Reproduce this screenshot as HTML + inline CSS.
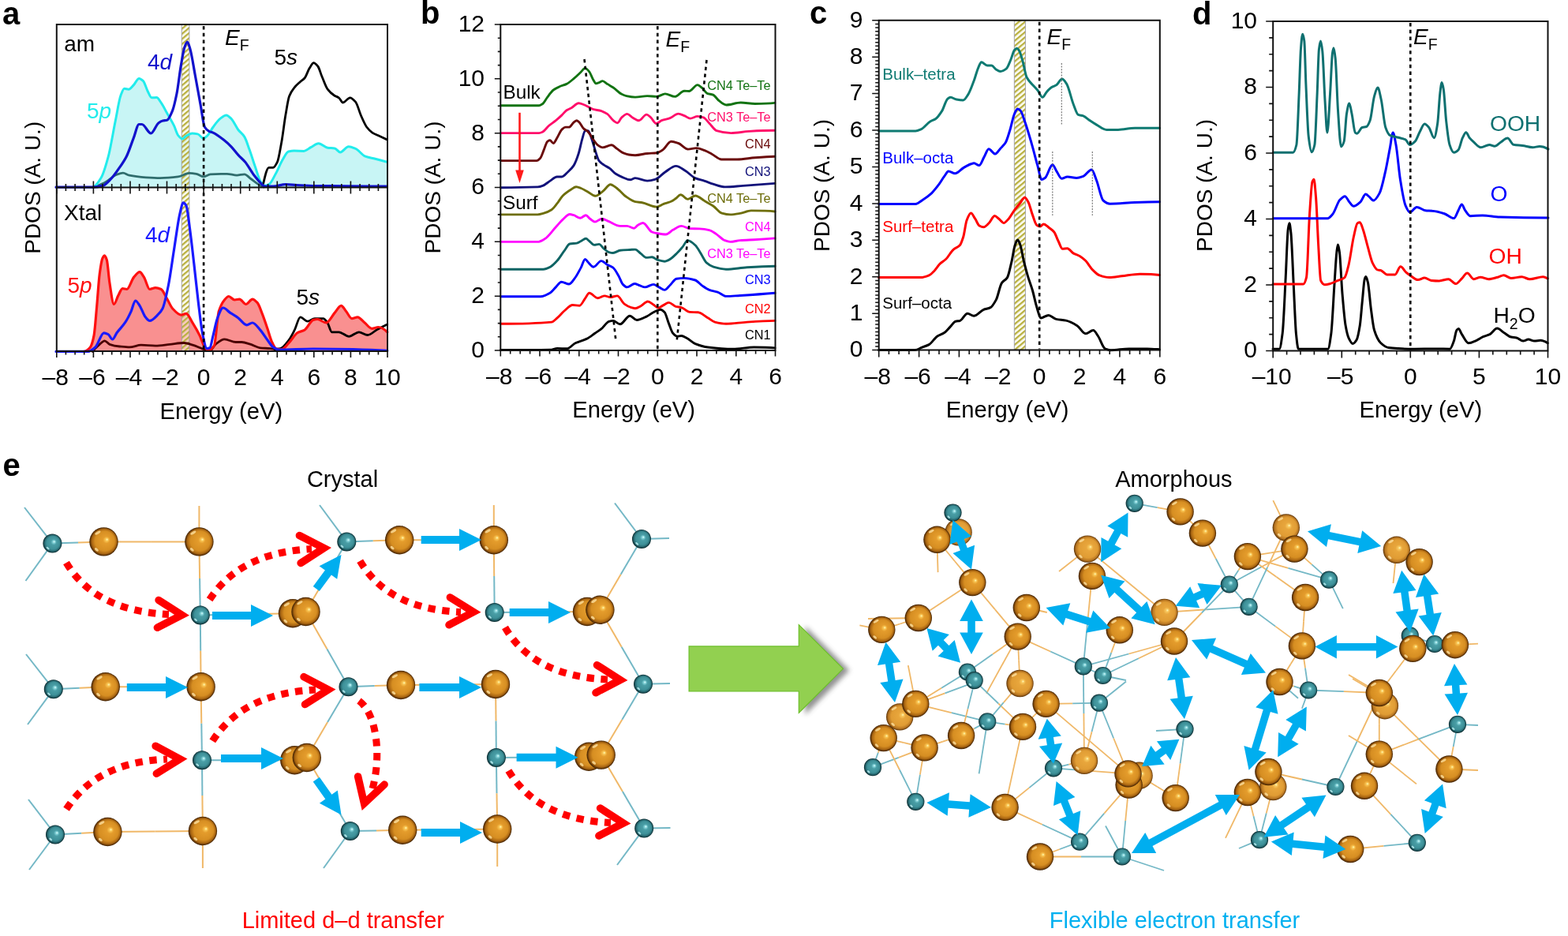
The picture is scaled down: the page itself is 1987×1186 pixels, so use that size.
<!DOCTYPE html>
<html><head><meta charset="utf-8"><title>PDOS figure</title>
<style>html,body{margin:0;padding:0;background:#fff;overflow:hidden}svg{display:block}</style>
</head><body>
<svg width="1987" height="1186" viewBox="0 0 1987 1186" font-family="'Liberation Sans', sans-serif">
<defs>
<pattern id="hatch" patternUnits="userSpaceOnUse" width="5" height="5" patternTransform="rotate(-40)">
<rect width="5" height="5" fill="#fbfbe8" fill-opacity="0.55"/><rect width="5" height="2.3" fill="#b9b040"/></pattern>
<radialGradient id="gO" cx="0.5" cy="0.5" r="0.5" fx="0.62" fy="0.42">
<stop offset="0" stop-color="#fffcb8"/><stop offset="0.1" stop-color="#f8c452"/><stop offset="0.24" stop-color="#e49c2c"/>
<stop offset="0.68" stop-color="#d68e22"/><stop offset="0.86" stop-color="#aa6612"/><stop offset="1" stop-color="#3a1c00"/></radialGradient>
<radialGradient id="gOl" cx="0.5" cy="0.5" r="0.5" fx="0.62" fy="0.42">
<stop offset="0" stop-color="#fffcc0"/><stop offset="0.1" stop-color="#f8c85e"/><stop offset="0.26" stop-color="#e8a63c"/>
<stop offset="0.7" stop-color="#e09c34"/><stop offset="0.88" stop-color="#b87622"/><stop offset="1" stop-color="#5a3208"/></radialGradient>
<radialGradient id="gT" cx="0.5" cy="0.5" r="0.5" fx="0.6" fy="0.4">
<stop offset="0" stop-color="#e0ffff"/><stop offset="0.13" stop-color="#82d2d8"/><stop offset="0.3" stop-color="#4a9ea6"/>
<stop offset="0.68" stop-color="#3d9098"/><stop offset="0.86" stop-color="#26666e"/><stop offset="1" stop-color="#062428"/></radialGradient>
<filter id="sh" x="-20%" y="-20%" width="150%" height="150%"><feGaussianBlur stdDeviation="3"/></filter>
</defs>
<rect width="1987" height="1186" fill="#fff"/>
<path d="M117.8,237.2C121.3,236.6 124.9,230.8 128.4,224.8C131.4,219.7 134.3,209.3 137.3,198.2C140.2,187.2 143.2,168.2 146.1,153.9C148.5,142.4 150.8,126.3 153.2,120.3C154.7,116.6 156.1,112.3 157.6,112.3C159.4,112.3 161.2,113.2 163,113.2C165.1,113.2 167.1,110 169.2,107.9C171.5,105.6 173.9,99.4 176.2,99.4C178,99.4 179.7,100.9 181.5,102.6C183.3,104.3 185.1,111.5 186.9,115C188.7,118.4 190.4,123.8 192.2,123.8C194.3,123.8 196.3,123.5 198.4,123.5C200.5,123.5 202.5,128 204.6,130.9C206.9,134.2 209.3,139.1 211.6,143.3C214.6,148.6 217.5,153.1 220.5,159.2C222.3,162.8 224,169.4 225.8,171.6C227.6,173.8 229.3,176.1 231.1,176.1C232.6,176.1 234,173.4 235.5,172.5C238.2,170.9 240.8,169 243.5,169C245.9,169 248.2,169.4 250.6,169.9C253,170.4 255.3,175.2 257.7,175.2C259.5,175.2 261.2,173.2 263,171.6C265.4,169.4 267.7,164.2 270.1,161C273,157.1 276,152.6 278.9,150.4C281.5,148.4 284.2,146 286.8,146C288.9,146 290.9,148.4 293,150.4C296,153.2 298.9,160.6 301.9,164.5C304.5,168 307.2,169.2 309.8,173.4C311.9,176.7 313.9,183.6 316,189.3C318.4,195.8 320.7,203.8 323.1,210.6C325.5,217.4 327.8,226.6 330.2,230C332,232.5 333.7,235.3 335.5,235.3C337.3,235.3 339,234.5 340.8,233.6C343.8,232.1 346.7,224.7 349.7,219.4C352.6,214.2 355.6,206.4 358.5,201.7C360.9,197.9 363.2,192.5 365.6,192C368,191.5 370.3,191.1 372.7,191.1C376.8,191.1 381,191.4 385.1,191.4C388,191.4 391,188.2 393.9,186.7C397.2,185 400.4,181.7 403.7,181.7C407.5,181.7 411.4,186.7 415.2,187.2C418.1,187.6 421.1,187.5 424,187.9C426.4,188.2 428.7,192.9 431.1,192.9C434.6,192.9 438.2,185.8 441.7,185.8C444.7,185.8 447.6,187.2 450.6,188.4C454.7,190.1 458.9,196.7 463,198.2C466.5,199.5 470.1,199.9 473.6,200.8C479.2,202.2 484.8,203.7 490.4,205.3L490.4,237.6 L117.8,237.6 Z" fill="#c8f5f5" stroke="none"/>
<path d="M106.3,445.4C109,445.4 111.7,443.2 114.4,440C115.9,438.2 117.5,433 119,425.4C120.2,419.5 121.4,402 122.6,389.1C123.8,376.2 125,356.4 126.2,347.4C127.4,338.4 128.6,329.9 129.8,327.5C130.7,325.6 131.7,323.9 132.6,323.9C133.5,323.9 134.4,326.5 135.3,329.3C136.5,333 137.7,350.8 138.9,358.3C140.7,369.7 142.6,385.5 144.4,385.5C146.2,385.5 148,377.9 149.8,374.6C151.6,371.3 153.4,365.6 155.2,365.6C157,365.6 158.9,366.5 160.7,366.5C163.7,366.5 166.7,354.5 169.7,351.1C172.1,348.3 174.6,344.7 177,344.7C178.8,344.7 180.6,348.4 182.4,351.1C184.8,354.7 187.3,366.5 189.7,366.5C192.1,366.5 194.6,364.7 197,364.7C199.4,364.7 201.8,365.5 204.2,366.5C206.6,367.6 209.1,374.2 211.5,378.3C213.9,382.3 216.3,388.4 218.7,391C222.3,394.9 226,399.1 229.6,399.1C231.7,399.1 233.8,397.3 235.9,397.3C238.6,397.3 241.4,404.7 244.1,409.1C247.1,413.9 250.2,419.2 253.2,425.4C255,429.1 256.8,435.5 258.6,438.1C260.4,440.7 262.2,443.6 264,443.6C266.4,443.6 268.9,441.5 271.3,438.1C273.3,435.3 275.3,400.9 277.3,394.5C279.7,386.8 282.1,382.8 284.5,380C286.3,377.9 288.1,375.5 289.9,375.5C292.3,375.5 294.8,380 297.2,380C299.3,380 301.4,379.1 303.5,379.1C306.2,379.1 309,385.5 311.7,385.5C314.4,385.5 317.2,379.1 319.9,379.1C322,379.1 324.1,381.4 326.2,383.7C328.3,386 330.4,392.9 332.5,398.2C334.6,403.6 336.8,410.1 338.9,416.3C340.7,421.6 342.5,428.7 344.3,432.6C346.1,436.5 348,441.3 349.8,441.7C352.2,442.3 354.6,442.6 357,442.6C360,442.6 363.1,437.5 366.1,434.4C369.7,430.7 373.4,423.8 377,421.7C380,419.9 383,419.9 386,418.1C389.6,416 393.3,406.4 396.9,405.4C398.7,404.9 400.5,404.5 402.3,404.5C405.9,404.5 409.6,409 413.2,409C416.8,409 420.5,400.5 424.1,396.4C426.8,393.3 429.6,387.3 432.3,387.3C434.4,387.3 436.5,392 438.6,394.5C441,397.4 443.5,403.6 445.9,403.6C448.3,403.6 450.7,401.8 453.1,401.8C456.1,401.8 459.2,406.6 462.2,409C465.2,411.4 468.2,416.3 471.2,416.3C473.9,416.3 476.7,414.5 479.4,414.5C483.2,414.5 487,417 490.8,420.8L490.8,445 L106.3,445 Z" fill="#f99090" stroke="none"/>
<rect x="230.2" y="31" width="9.7" height="414" fill="url(#hatch)" stroke="#9a9aa8" stroke-width="0.9"/>
<path d="M117.8,237.2C122.5,236 127.3,234.1 132,231.8C137.3,229.2 142.6,223.1 147.9,221.2C150.6,220.2 153.2,219.1 155.9,219.1C158.5,219.1 161.2,221.6 163.8,222.1C170.9,223.6 178,224.3 185.1,224.8C191,225.2 196.9,225.6 202.8,225.6C210.5,225.6 218.1,224.9 225.8,223.9C230.5,223.3 235.3,219.4 240,219.4C242.9,219.4 245.9,219.8 248.8,220.3C251.8,220.8 254.7,223.9 257.7,223.9C260.6,223.9 263.6,221.1 266.5,220.9C271,220.5 275.5,220.3 280,220.3C282.6,220.3 285.1,220.3 287.7,220.3C291.8,220.3 296,222.1 300.1,222.1C303.3,222.1 306.6,220.8 309.8,220.8C312.5,220.8 315.1,224.6 317.8,226.5C321.9,229.4 326.1,233.1 330.2,235.3C331.5,236 332.7,236.5 334,237" fill="none" stroke="#2f6d6d" stroke-width="2.8" stroke-linejoin="round" stroke-linecap="round"/>
<path d="M117.8,237.2C121.3,236.6 124.9,230.8 128.4,224.8C131.4,219.7 134.3,209.3 137.3,198.2C140.2,187.2 143.2,168.2 146.1,153.9C148.5,142.4 150.8,126.3 153.2,120.3C154.7,116.6 156.1,112.3 157.6,112.3C159.4,112.3 161.2,113.2 163,113.2C165.1,113.2 167.1,110 169.2,107.9C171.5,105.6 173.9,99.4 176.2,99.4C178,99.4 179.7,100.9 181.5,102.6C183.3,104.3 185.1,111.5 186.9,115C188.7,118.4 190.4,123.8 192.2,123.8C194.3,123.8 196.3,123.5 198.4,123.5C200.5,123.5 202.5,128 204.6,130.9C206.9,134.2 209.3,139.1 211.6,143.3C214.6,148.6 217.5,153.1 220.5,159.2C222.3,162.8 224,169.4 225.8,171.6C227.6,173.8 229.3,176.1 231.1,176.1C232.6,176.1 234,173.4 235.5,172.5C238.2,170.9 240.8,169 243.5,169C245.9,169 248.2,169.4 250.6,169.9C253,170.4 255.3,175.2 257.7,175.2C259.5,175.2 261.2,173.2 263,171.6C265.4,169.4 267.7,164.2 270.1,161C273,157.1 276,152.6 278.9,150.4C281.5,148.4 284.2,146 286.8,146C288.9,146 290.9,148.4 293,150.4C296,153.2 298.9,160.6 301.9,164.5C304.5,168 307.2,169.2 309.8,173.4C311.9,176.7 313.9,183.6 316,189.3C318.4,195.8 320.7,203.8 323.1,210.6C325.5,217.4 327.8,226.6 330.2,230C332,232.5 333.7,235.3 335.5,235.3C337.3,235.3 339,234.5 340.8,233.6C343.8,232.1 346.7,224.7 349.7,219.4C352.6,214.2 355.6,206.4 358.5,201.7C360.9,197.9 363.2,192.5 365.6,192C368,191.5 370.3,191.1 372.7,191.1C376.8,191.1 381,191.4 385.1,191.4C388,191.4 391,188.2 393.9,186.7C397.2,185 400.4,181.7 403.7,181.7C407.5,181.7 411.4,186.7 415.2,187.2C418.1,187.6 421.1,187.5 424,187.9C426.4,188.2 428.7,192.9 431.1,192.9C434.6,192.9 438.2,185.8 441.7,185.8C444.7,185.8 447.6,187.2 450.6,188.4C454.7,190.1 458.9,196.7 463,198.2C466.5,199.5 470.1,199.9 473.6,200.8C479.2,202.2 484.8,203.7 490.4,205.3" fill="none" stroke="#22ecec" stroke-width="3.0" stroke-linejoin="round" stroke-linecap="round"/>
<path d="M333.7,232.5C336.1,221.9 338.4,212.3 340.8,212.3C342.6,212.3 344.3,212.3 346.1,212.3C347.9,212.3 349.6,208.9 351.4,205.3C353.2,201.7 354.9,190.2 356.7,180.5C358.5,170.8 360.2,155.3 362,145.1C363.5,136.4 365,126.1 366.5,122.1C368.6,116.6 370.6,114 372.7,111.4C375.3,108 378,105.9 380.6,103.5C382.4,101.9 384.2,101.1 386,99C388,96.6 390.1,89.8 392.1,86.6C393.9,83.8 395.7,79.6 397.5,79.6C399.3,79.6 401,81.8 402.8,84C404.6,86.2 406.3,93.1 408.1,97.3C410.5,102.9 412.8,110.1 415.2,113.2C418.1,117.1 421.1,119.4 424,121.2C425.8,122.3 427.5,122.6 429.3,123.8C431.1,125 432.8,130 434.6,130C437.6,130 440.5,123.8 443.5,123.8C445.9,123.8 448.2,126.4 450.6,129.1C452.9,131.8 455.3,141.6 457.6,146.8C460,152.1 462.3,157.8 464.7,161C467.1,164.2 469.4,166.5 471.8,168.1C474.2,169.7 476.5,170.5 478.9,171.6C482.7,173.4 486.6,175.2 490.4,176.9" fill="none" stroke="#000" stroke-width="2.8" stroke-linejoin="round" stroke-linecap="round"/>
<path d="M71,237.2C86.6,237.2 102.2,237.2 117.8,237.2C121.9,237.2 126.1,236.4 130.2,235.4C133.7,234.5 137.3,230.1 140.8,226.5C144.3,222.9 147.9,217.5 151.4,212.4C154.4,208.1 157.3,204.1 160.3,198.2C163.3,192.3 166.2,182.8 169.2,175.2C171.5,169.2 173.9,157.5 176.2,157.5C177.4,157.5 178.6,157.5 179.8,157.5C183.6,157.5 187.5,169 191.3,169C194.5,169 197.8,158 201,155.7C202.8,154.4 204.5,153.4 206.3,153C208.1,152.6 209.8,152.7 211.6,152.2C214,151.6 216.3,145.7 218.7,139.8C220.5,135.4 222.2,127.4 224,118.5C225.8,109.6 227.5,93.3 229.3,83.1C230.8,74.4 232.3,64.4 233.8,60.1C235,56.8 236.1,53 237.3,53C238.5,53 239.7,58 240.9,61.9C242.9,68.5 245,82.8 247,93.7C249.4,106.4 251.7,119.9 254.1,132.7C255.9,142.3 257.6,158.1 259.4,161C261.2,164 263,165.4 264.8,166.3C266.5,167.2 268.3,167.3 270,168.1C274.7,170.2 279.5,174.1 284.2,177.8C287.1,180.1 290.1,182.8 293,185.8C296,188.9 298.9,193.2 301.9,196.4C304.8,199.6 307.8,201.8 310.7,205.3C314.2,209.5 317.8,216.5 321.3,221.2C324.3,225.1 327.2,228.9 330.2,231.8C332,233.5 333.7,236.2 335.5,236.2C339,236.2 342.6,236.2 346.1,236.2C351.4,236.2 356.7,233.6 362,233.6C366.7,233.6 371.5,234.3 376.2,234.5C384.1,234.9 392.1,235.4 400,235.5C413.3,235.7 426.7,235.7 440,235.8C456.8,235.9 473.6,236.1 490.4,236.2" fill="none" stroke="#1212cc" stroke-width="3.2" stroke-linejoin="round" stroke-linecap="round"/>
<path d="M117.2,445.4C120.2,441.8 123.2,438.8 126.2,436.3C128.3,434.5 130.5,431.8 132.6,431.8C134.7,431.8 136.8,435.6 138.9,436.3C143.1,437.8 147.4,438.6 151.6,439C155.8,439.4 160.1,439.9 164.3,439.9C169.1,439.9 174,437.2 178.8,437.2C184.9,437.2 190.9,438.1 197,438.1C203,438.1 209.1,436.9 215.1,436.3C221.1,435.7 227.2,434.5 233.2,434.5C236.8,434.5 240.5,436.1 244.1,437.2C248.9,438.6 253.8,441.1 258.6,442.6C261,443.3 263.5,444.5 265.9,444.5C268.3,444.5 270.7,438.2 273.1,436.3C276.9,433.4 280.7,429.9 284.5,429.9C289.3,429.9 294.2,433.5 299,433.5C301.4,433.5 303.9,433.5 306.3,433.5C309.9,433.5 313.5,435.1 317.1,436.2C321.3,437.4 325.6,440.3 329.8,440.8C334,441.3 338.3,441.2 342.5,441.7C345.5,442 348.6,442.7 351.6,443.5" fill="none" stroke="#4a0000" stroke-width="2.8" stroke-linejoin="round" stroke-linecap="round"/>
<path d="M348,442.5C350.4,442.5 352.8,442.2 355.2,441.7C358.8,441 362.5,435.5 366.1,430.8C368.5,427.7 370.9,422.8 373.3,418.1C375.7,413.3 378.2,401.8 380.6,401.8C383.6,401.8 386.7,407.2 389.7,407.2C392.7,407.2 395.7,403.6 398.7,403.6C402.3,403.6 406,403.6 409.6,403.6C411.4,403.6 413.2,406.5 415,409C416.8,411.5 418.7,420.8 420.5,420.8C423.5,420.8 426.5,420.8 429.5,420.8C433.7,420.8 438,426.3 442.2,426.3C446.4,426.3 450.7,420.8 454.9,420.8C458.5,420.8 462.2,424.5 465.8,424.5C470,424.5 474.3,419.5 478.5,417.2C482.6,415 486.7,412.9 490.8,410.9" fill="none" stroke="#000" stroke-width="2.8" stroke-linejoin="round" stroke-linecap="round"/>
<path d="M106.3,445.4C109,445.4 111.7,443.2 114.4,440C115.9,438.2 117.5,433 119,425.4C120.2,419.5 121.4,402 122.6,389.1C123.8,376.2 125,356.4 126.2,347.4C127.4,338.4 128.6,329.9 129.8,327.5C130.7,325.6 131.7,323.9 132.6,323.9C133.5,323.9 134.4,326.5 135.3,329.3C136.5,333 137.7,350.8 138.9,358.3C140.7,369.7 142.6,385.5 144.4,385.5C146.2,385.5 148,377.9 149.8,374.6C151.6,371.3 153.4,365.6 155.2,365.6C157,365.6 158.9,366.5 160.7,366.5C163.7,366.5 166.7,354.5 169.7,351.1C172.1,348.3 174.6,344.7 177,344.7C178.8,344.7 180.6,348.4 182.4,351.1C184.8,354.7 187.3,366.5 189.7,366.5C192.1,366.5 194.6,364.7 197,364.7C199.4,364.7 201.8,365.5 204.2,366.5C206.6,367.6 209.1,374.2 211.5,378.3C213.9,382.3 216.3,388.4 218.7,391C222.3,394.9 226,399.1 229.6,399.1C231.7,399.1 233.8,397.3 235.9,397.3C238.6,397.3 241.4,404.7 244.1,409.1C247.1,413.9 250.2,419.2 253.2,425.4C255,429.1 256.8,435.5 258.6,438.1C260.4,440.7 262.2,443.6 264,443.6C266.4,443.6 268.9,441.5 271.3,438.1C273.3,435.3 275.3,400.9 277.3,394.5C279.7,386.8 282.1,382.8 284.5,380C286.3,377.9 288.1,375.5 289.9,375.5C292.3,375.5 294.8,380 297.2,380C299.3,380 301.4,379.1 303.5,379.1C306.2,379.1 309,385.5 311.7,385.5C314.4,385.5 317.2,379.1 319.9,379.1C322,379.1 324.1,381.4 326.2,383.7C328.3,386 330.4,392.9 332.5,398.2C334.6,403.6 336.8,410.1 338.9,416.3C340.7,421.6 342.5,428.7 344.3,432.6C346.1,436.5 348,441.3 349.8,441.7C352.2,442.3 354.6,442.6 357,442.6C360,442.6 363.1,437.5 366.1,434.4C369.7,430.7 373.4,423.8 377,421.7C380,419.9 383,419.9 386,418.1C389.6,416 393.3,406.4 396.9,405.4C398.7,404.9 400.5,404.5 402.3,404.5C405.9,404.5 409.6,409 413.2,409C416.8,409 420.5,400.5 424.1,396.4C426.8,393.3 429.6,387.3 432.3,387.3C434.4,387.3 436.5,392 438.6,394.5C441,397.4 443.5,403.6 445.9,403.6C448.3,403.6 450.7,401.8 453.1,401.8C456.1,401.8 459.2,406.6 462.2,409C465.2,411.4 468.2,416.3 471.2,416.3C473.9,416.3 476.7,414.5 479.4,414.5C483.2,414.5 487,417 490.8,420.8" fill="none" stroke="#ff1010" stroke-width="3.2" stroke-linejoin="round" stroke-linecap="round"/>
<path d="M71,445.4C84.6,445.4 98.1,445.4 111.7,445.4C114.7,445.4 117.8,442.6 120.8,440C124.4,436.9 128.1,421.8 131.7,421.8C133.5,421.8 135.3,422.7 137.1,423.6C138.9,424.5 140.7,430 142.5,430C144.3,430 146.2,424.3 148,421.8C151.6,416.8 155.3,413.7 158.9,408.2C161.3,404.5 163.7,399.8 166.1,394.6C167.9,390.6 169.8,381 171.6,381C173.4,381 175.2,384.7 177,387.3C179.4,390.8 181.9,399 184.3,401.8C186.1,403.9 187.9,406.4 189.7,406.4C193.3,406.4 197,401.8 200.6,398.2C202.4,396.4 204.2,394.5 206,391C208.4,386.3 210.9,373.9 213.3,362C215.7,350.3 218.1,331.6 220.5,316.6C222.9,301.4 225.4,281.4 227.8,271.3C229.3,265.1 230.8,256.8 232.3,256.8C233.5,256.8 234.7,258.4 235.9,260.4C237.4,263 239,278.4 240.5,289.4C242.3,302.3 244.1,319.1 245.9,334.7C247.7,350.5 249.6,368.9 251.4,383.7C253.2,398.2 255,415.3 256.8,423.6C258.6,431.9 260.4,441.7 262.2,441.7C263.4,441.7 264.7,441.4 265.9,440.8C267.3,440.2 268.6,430.7 270,425.4C271.8,418.4 273.6,408.3 275.4,403.6C277.8,397.3 280.3,390 282.7,390C285.7,390 288.8,394.4 291.8,396.4C295.1,398.6 298.4,400.3 301.7,402.7C305.3,405.3 309,411.8 312.6,411.8C315,411.8 317.5,409 319.9,409C323.2,409 326.5,414.4 329.8,418.1C332.8,421.5 335.9,426.8 338.9,430.8C341.3,434 343.7,438.3 346.1,439.9C348.5,441.5 351,443.1 353.4,443.1C367.9,443.1 382.4,442 396.9,442C428.2,442 459.5,442.5 490.8,444.4" fill="none" stroke="#1a1aff" stroke-width="3.2" stroke-linejoin="round" stroke-linecap="round"/>
<path d="M258.1,33V444" stroke="#000" stroke-width="2.6" stroke-dasharray="4.4 4.4"/>
<path d="M71.8,31H491V445H71.8Z" fill="none" stroke="#111" stroke-width="2"/>
<path d="M71.8,237.6H491" stroke="#111" stroke-width="2"/>
<path d="M71.8,229.6V245.6M83.4,233.1V242.1M95.1,233.1V242.1M106.7,233.1V242.1M118.4,229.6V245.6M130,233.1V242.1M141.7,233.1V242.1M153.3,233.1V242.1M165,229.6V245.6M176.6,233.1V242.1M188.2,233.1V242.1M199.9,233.1V242.1M211.5,229.6V245.6M223.2,233.1V242.1M234.8,233.1V242.1M246.5,233.1V242.1M258.1,229.6V245.6M269.8,233.1V242.1M281.4,233.1V242.1M293,233.1V242.1M304.7,229.6V245.6M316.3,233.1V242.1M328,233.1V242.1M339.6,233.1V242.1M351.3,229.6V245.6M362.9,233.1V242.1M374.6,233.1V242.1M386.2,233.1V242.1M397.8,229.6V245.6M409.5,233.1V242.1M421.1,233.1V242.1M432.8,233.1V242.1M444.4,229.6V245.6M456.1,233.1V242.1M467.7,233.1V242.1M479.4,233.1V242.1M491,229.6V245.6" stroke="#111" stroke-width="1.6"/>
<path d="M71.8,445V453M83.4,445V449.5M95.1,445V449.5M106.7,445V449.5M118.4,445V453M130,445V449.5M141.7,445V449.5M153.3,445V449.5M165,445V453M176.6,445V449.5M188.2,445V449.5M199.9,445V449.5M211.5,445V453M223.2,445V449.5M234.8,445V449.5M246.5,445V449.5M258.1,445V453M269.8,445V449.5M281.4,445V449.5M293,445V449.5M304.7,445V453M316.3,445V449.5M328,445V449.5M339.6,445V449.5M351.3,445V453M362.9,445V449.5M374.6,445V449.5M386.2,445V449.5M397.8,445V453M409.5,445V449.5M421.1,445V449.5M432.8,445V449.5M444.4,445V453M456.1,445V449.5M467.7,445V449.5M479.4,445V449.5M491,445V453" stroke="#111" stroke-width="1.6"/>
<text x="70.3" y="488.3" font-size="30" fill="#000" text-anchor="middle">–8</text>
<text x="116.9" y="488.3" font-size="30" fill="#000" text-anchor="middle">–6</text>
<text x="163.5" y="488.3" font-size="30" fill="#000" text-anchor="middle">–4</text>
<text x="210" y="488.3" font-size="30" fill="#000" text-anchor="middle">–2</text>
<text x="258.1" y="488.3" font-size="30" fill="#000" text-anchor="middle">0</text>
<text x="304.7" y="488.3" font-size="30" fill="#000" text-anchor="middle">2</text>
<text x="351.3" y="488.3" font-size="30" fill="#000" text-anchor="middle">4</text>
<text x="397.8" y="488.3" font-size="30" fill="#000" text-anchor="middle">6</text>
<text x="444.4" y="488.3" font-size="30" fill="#000" text-anchor="middle">8</text>
<text x="491" y="488.3" font-size="30" fill="#000" text-anchor="middle">10</text>
<text x="280.4" y="530.5" font-size="29.2" fill="#000" text-anchor="middle">Energy (eV)</text>
<text x="51" y="237.8" font-size="28" fill="#000" text-anchor="middle" transform="rotate(-90 51 237.8)">PDOS (A. U.)</text>
<text x="81.3" y="64.5" font-size="28" fill="#000" text-anchor="start">am</text>
<text x="81" y="279.4" font-size="28" fill="#000" text-anchor="start">Xtal</text>
<text x="187" y="88.4" font-size="28" fill="#1212cc" text-anchor="start">4<tspan font-style="italic">d</tspan></text>
<text x="184" y="306.6" font-size="28" fill="#1a1aff" text-anchor="start">4<tspan font-style="italic">d</tspan></text>
<text x="110" y="150.4" font-size="28" fill="#22ecec" text-anchor="start">5<tspan font-style="italic">p</tspan></text>
<text x="85.5" y="371" font-size="28" fill="#ff1010" text-anchor="start">5<tspan font-style="italic">p</tspan></text>
<text x="347.5" y="82.2" font-size="28" fill="#000" text-anchor="start">5<tspan font-style="italic">s</tspan></text>
<text x="375.5" y="385.5" font-size="28" fill="#000" text-anchor="start">5<tspan font-style="italic">s</tspan></text>
<text x="285" y="57.4" font-size="28" fill="#000" text-anchor="start"><tspan font-style="italic">E</tspan><tspan font-size="19.5" dy="7">F</tspan></text>
<text x="3" y="30.8" font-size="40" fill="#000" text-anchor="start" font-weight="bold">a</text>
<path d="M634.4,443.5C655.4,443.5 676.3,443.5 697.3,443.2C700.2,443.2 703.2,441.4 706.1,441.4C710.2,441.4 714.4,441.8 718.5,441.8C722,441.8 725.6,436.4 729.1,434.7C733.8,432.4 738.6,431.7 743.3,429.4C746.8,427.7 750.4,424.7 753.9,422.3C756.8,420.3 759.8,418.5 762.7,416.1C765.7,413.7 768.6,408.1 771.6,407.3C773.4,406.8 775.1,406.4 776.9,406.4C779.9,406.4 782.8,410.8 785.8,410.8C789.9,410.8 794,400.2 798.1,400.2C801.1,400.2 804,405.5 807,405.5C811.1,405.5 815.1,403 819.2,401.1C822.1,399.8 825.1,397.2 828,395.8C831,394.4 833.9,392.2 836.9,392.2C838.7,392.2 840.4,393.9 842.2,395.8C844,397.7 845.7,405.5 847.5,409.9C849.3,414.3 851,420.3 852.8,422.3C854.6,424.3 856.3,426.2 858.1,426.2C859.9,426.2 861.6,425.5 863.4,425.5C865.8,425.5 868.1,427.3 870.5,428.5C874,430.3 877.6,434.2 881.1,435.6C886.4,437.7 891.7,439.4 897,440C907.6,441.3 918.3,442.3 928.9,442.3C937.7,442.3 946.6,440 955.4,440C964.3,440 973.1,440.1 982,440.9" fill="none" stroke="#000" stroke-width="2.9" stroke-linejoin="round" stroke-linecap="round"/>
<path d="M634.4,410.3C655.9,410.3 677.5,410 699,408.1C701.4,407.9 703.7,404.8 706.1,402.8C709.1,400.3 712,396.5 715,394C718.5,391.1 722.1,386.5 725.6,386.5C728.5,386.5 731.5,387.3 734.4,387.3C736.8,387.3 739.1,381.2 741.5,378.1C743.3,375.8 745,371.3 746.8,371.3C750.3,371.3 753.9,377.7 757.4,377.7C760.4,377.7 763.3,374.9 766.3,374.9C768.7,374.9 771,376.6 773.4,376.6C776.3,376.6 779.3,374.9 782.2,374.9C785.2,374.9 788.1,383 791.1,385.1C794,387.2 797,388.7 799.9,389.6C801.6,390.1 803.3,390.8 805,390.8C807.4,390.8 809.7,389 812.1,387.8C815,386.3 818,382 820.9,382C823.3,382 825.6,384.6 828,386C830.1,387.3 832.1,390.1 834.2,390.1C836.3,390.1 838.3,387.9 840.4,386.9C842.8,385.7 845.1,383.4 847.5,383.4C850.4,383.4 853.4,387.5 856.3,388.3C858.7,388.9 861,389 863.4,389.6C866.9,390.5 870.5,395.2 874,395.4C877.5,395.6 881.1,395.6 884.6,395.8C888.7,396.1 892.9,400.4 897,402.8C900,404.5 902.9,407.3 905.9,408.1C910.6,409.3 915.3,410.3 920,410.3C928.9,410.3 937.7,408.6 946.6,408.1C958.4,407.4 970.2,406.7 982,406.4" fill="none" stroke="#ff0000" stroke-width="2.9" stroke-linejoin="round" stroke-linecap="round"/>
<path d="M634.4,375.8C651.2,375.8 668.1,375.8 684.9,375.8C689,375.8 693.2,373.4 697.3,371C699.6,369.6 702,366.2 704.3,363.9C706.7,361.6 709,357.2 711.4,357.2C714.7,357.2 717.9,360 721.2,360C723.8,360 726.5,355 729.1,351.5C731.5,348.3 733.8,343.5 736.2,339.1C738,335.8 739.7,328.5 741.5,328.5C742.7,328.5 743.8,330.9 745,332C747.4,334.2 749.7,338.2 752.1,338.2C755.4,338.2 758.6,330.6 761.9,330.6C764.5,330.6 767.2,334.1 769.8,335.6C772.2,336.9 774.5,337.3 776.9,339.1C779.3,340.9 781.6,345.6 784,349.7C785.8,352.8 787.5,358.6 789.3,360.4C791.1,362.2 792.8,363.9 794.6,363.9C797.8,363.9 801.1,359.5 804.3,359.5C806.2,359.5 808.1,360.9 810,361.5C812.5,362.3 814.9,363.9 817.4,363.9C820.9,363.9 824.5,360.4 828,360.4C830.4,360.4 832.7,362.7 835.1,363.9C837.5,365.1 839.8,367.4 842.2,367.4C844.5,367.4 846.9,363.4 849.2,361.2C851.9,358.7 854.5,353.8 857.2,353.3C860.5,352.7 863.7,352.4 867,352.4C871.7,352.4 876.4,353.5 881.1,355C884.1,355.9 887,360.1 890,362.1C892.9,364.1 895.9,366.3 898.8,367.4C902.3,368.7 905.9,368.9 909.4,370.1C912.9,371.3 916.5,375.4 920,375.4C925.9,375.4 931.8,374.8 937.7,374.5C952.5,373.6 967.2,372.6 982,371.3" fill="none" stroke="#0000ff" stroke-width="2.9" stroke-linejoin="round" stroke-linecap="round"/>
<path d="M634.4,341.2C652.4,341.2 670.4,341.2 688.4,341.2C691.4,341.2 694.3,339.7 697.3,338.2C700.2,336.8 703.2,333.5 706.1,330.3C709.1,327.1 712,321.8 715,317.9C717.3,314.8 719.7,309.5 722,309C725,308.4 727.9,308.6 730.9,308.1C732.7,307.8 734.4,306.4 736.2,305.5C738.3,304.5 740.3,302.3 742.4,302.3C743.9,302.3 745.3,304.4 746.8,305.5C748.9,307.1 750.9,310.4 753,310.4C755.1,310.4 757.1,309.4 759.2,309.4C761,309.4 762.7,312.8 764.5,314.3C766.9,316.3 769.2,319 771.6,319.6C773.4,320.1 775.1,320.5 776.9,320.5C779.9,320.5 782.8,317.6 785.8,317.3C789.9,316.8 794,316.7 798.1,316.5C800.4,316.4 802.7,316.1 805,316.1C807.4,316.1 809.7,319.7 812.1,321.4C814.5,323.1 816.8,326.4 819.2,326.4C821.5,326.4 823.9,325.8 826.2,325.8C828.6,325.8 830.9,328.7 833.3,329.4C836.3,330.3 839.2,331.2 842.2,331.2C844,331.2 845.7,330.2 847.5,329.4C851,327.8 854.6,323.9 858.1,320.5C860.5,318.2 862.8,315.4 865.2,312.6C867.3,310.1 869.3,304.6 871.4,304.6C874.6,304.6 877.9,307.8 881.1,310.8C883.5,313 885.8,317.7 888.2,321.4C890.6,325.1 892.9,330.8 895.3,332.9C898.2,335.5 901.2,337.3 904.1,338.2C909.4,339.8 914.7,341.2 920,341.2C928.9,341.2 937.7,339.3 946.6,338.8C958.4,338.1 970.2,337.5 982,337.3" fill="none" stroke="#0e6464" stroke-width="2.9" stroke-linejoin="round" stroke-linecap="round"/>
<path d="M634.4,306.4C650,306.4 665.7,306.4 681.3,306.4C684.3,306.4 687.2,304.5 690.2,302.8C694.9,300.1 699.6,292.9 704.3,287.8C707.3,284.6 710.2,280.7 713.2,278.1C716.1,275.5 719.1,271.5 722,271.5C723.8,271.5 725.5,272.2 727.3,272.7C730,273.5 732.6,276.3 735.3,276.3C737.7,276.3 740,272.7 742.4,272.7C744.2,272.7 745.9,275.9 747.7,277.2C749.8,278.7 751.8,281.1 753.9,281.1C756.8,281.1 759.8,277.2 762.7,277.2C765.7,277.2 768.6,279.5 771.6,280.7C776.3,282.6 781.1,286.4 785.8,286.4C788.7,286.4 791.7,286.4 794.6,286.4C797.6,286.4 800.5,289.2 803.5,289.2C805,289.2 806.5,286.4 808,285.5C810.2,284.2 812.5,282.5 814.7,282.5C818.5,282.5 822.4,292.5 826.2,294C828.6,294.9 830.9,295.4 833.3,295.8C836.8,296.4 840.4,297 843.9,297C846.9,297 849.8,292.9 852.8,291.3C856.3,289.4 859.9,286.4 863.4,286.4C866.9,286.4 870.5,289.4 874,289.6C878.1,289.8 882.3,289.7 886.4,289.9C890.5,290.1 894.7,290.7 898.8,291.7C901.8,292.4 904.7,294.7 907.7,296.6C911.2,298.8 914.8,303.3 918.3,304.6C920.7,305.5 923,306.4 925.4,306.4C929.5,306.4 933.6,304.9 937.7,304.6C943.6,304.1 949.5,304 955.4,303.7C964.3,303.2 973.1,302.6 982,301.9" fill="none" stroke="#ff00ff" stroke-width="2.9" stroke-linejoin="round" stroke-linecap="round"/>
<path d="M634.4,271.9C650,271.9 665.7,271.9 681.3,271.9C683.7,271.9 686,271.1 688.4,270.4C691.9,269.4 695.5,268 699,265.7C701.4,264.1 703.7,260.6 706.1,257.7C708.5,254.8 710.8,250.3 713.2,248C716.7,244.5 720.3,242.2 723.8,240C725.9,238.7 728,236.7 730.1,236.7C732.1,236.7 734.2,237.7 736.2,238.5C738.8,239.5 741.4,241.1 744,242.5C747.4,244.3 750.9,248.3 754.3,248.3C757.7,248.3 761.1,244.3 764.5,241.8C767.5,239.6 770.6,233.8 773.6,233.8C775.4,233.8 777.2,235.4 779,236.5C781.2,237.9 783.5,240 785.7,242C788.1,244.1 790.4,247.1 792.8,248.8C796.9,251.7 800.9,254.7 805,255.6C807.9,256.2 810.9,256.3 813.8,256.8C820,257.9 826.2,262.1 832.4,262.1C835.1,262.1 837.7,259.6 840.4,258.6C843.9,257.2 847.5,256.6 851,255C852.8,254.2 854.5,252.8 856.3,251.5C858.4,250 860.4,246.7 862.5,246.7C865.5,246.7 868.4,252.4 871.4,252.4C874.6,252.4 877.9,248 881.1,248C885.2,248 889.4,252.6 893.5,255C897,257 900.6,258.8 904.1,261.2C907.6,263.6 911.2,269.1 914.7,270.1C918.3,271.1 921.8,271.9 925.4,271.9C929.5,271.9 933.6,271.1 937.7,270.4C942.4,269.6 947.2,266.9 951.9,266.9C961.9,266.9 972,266.9 982,268" fill="none" stroke="#6e6e0a" stroke-width="2.9" stroke-linejoin="round" stroke-linecap="round"/>
<path d="M634.6,237.7C650.3,237.7 665.9,237.5 681.6,236.9C683.6,236.8 685.7,236.1 687.7,235.4C690.7,234.3 693.8,231.3 696.8,229.4C699.8,227.5 702.9,224 705.9,224C707.9,224 710,224 712,224C714.5,224 717,220.3 719.5,218C722,215.6 724.6,213.5 727.1,209.6C729.1,206.4 731.2,200.8 733.2,194.5C734.7,189.8 736.3,181.3 737.8,176.2C739,172.1 740.3,165.6 741.5,165.6C742.8,165.6 744,165.6 745.3,165.6C746.8,165.6 748.4,172 749.9,176.2C751.4,180.4 753,186.8 754.5,191.4C756,195.9 757.5,201.6 759,203.6C761,206.3 763.1,207.5 765.1,208.9C767.6,210.7 770.2,211.6 772.7,213.4C775.2,215.2 777.8,218.7 780.3,220.3C783.3,222.3 786.4,223.6 789.4,224.8C792.4,226 795.5,227.8 798.5,227.8C800.7,227.8 802.8,225.6 805,225.6C810.1,225.6 815.1,229.1 820.2,229.1C823.7,229.1 827.3,228.2 830.8,227.1C834.8,225.9 838.9,220.6 842.9,218C847.5,215.1 852,210.4 856.6,210.4C860.6,210.4 864.7,214.1 868.7,216.5C872.8,218.9 876.8,223.8 880.9,225.6C884.9,227.4 889,228 893,229.4C896.5,230.6 900.1,232.2 903.6,233.2C908.7,234.7 913.7,236.9 918.8,236.9C926.4,236.9 934,235.9 941.6,235.4C955,234.5 968.4,233.5 981.8,232.4" fill="none" stroke="#12127a" stroke-width="2.9" stroke-linejoin="round" stroke-linecap="round"/>
<path d="M634.6,203.6C649.8,203.6 664.9,203.6 680.1,203.6C681.6,203.6 683.1,202.1 684.6,200.5C686.1,198.9 687.7,193.5 689.2,189.9C690.7,186.4 692.2,180.5 693.7,179.3C694.7,178.5 695.8,177.8 696.8,177.8C698.3,177.8 699.8,181.5 701.3,181.5C702.8,181.5 704.4,177.1 705.9,174.7C707.9,171.5 710,166 712,164.1C713.5,162.7 715,161.1 716.5,161.1C718,161.1 719.6,161.1 721.1,161.1C723.1,161.1 725.1,156.5 727.1,155C728.4,154.1 729.6,152.7 730.9,152.7C732.2,152.7 733.4,154.4 734.7,155.7C736.2,157.3 737.8,161 739.3,162.6C741.3,164.6 743.3,165.1 745.3,167.1C747.3,169.1 749.4,173.4 751.4,176.2C753.4,179 755.5,182.3 757.5,183.8C759.5,185.3 761.6,186.9 763.6,186.9C767.4,186.9 771.1,183.8 774.9,183.8C777.2,183.8 779.5,186.8 781.8,188.4C784.3,190.1 786.9,192.6 789.4,193.7C791.9,194.8 794.4,195.7 796.9,196C799.6,196.4 802.3,196.7 805,196.7C810.1,196.7 815.1,195 820.2,194.5C824.2,194.1 828.3,194.2 832.3,193.7C834.8,193.4 837.4,191.6 839.9,189.9C843.4,187.6 847,179.3 850.5,179.3C853.5,179.3 856.6,180.5 859.6,181.5C863.7,182.9 867.7,189.1 871.8,189.1C875.3,189.1 878.9,187.6 882.4,187.6C885.9,187.6 889.5,189.4 893,190.7C896,191.8 899.1,193.6 902.1,195.2C906.2,197.3 910.2,202 914.3,202C920.9,202 927.4,202 934,202C941.6,202 949.2,200.4 956.8,199.8C965.1,199.2 973.5,198.6 981.8,198.2" fill="none" stroke="#6a0a0a" stroke-width="2.9" stroke-linejoin="round" stroke-linecap="round"/>
<path d="M634.6,168.6C650.8,168.6 666.9,168.6 683.1,168.6C684.6,168.6 686.2,167.8 687.7,167.1C690.2,165.9 692.8,161.7 695.3,159.5C698.3,156.9 701.4,155.2 704.4,152.7C706.9,150.6 709.5,148.3 712,145.9C714,144 716,141.1 718,139.8C720,138.5 722.1,137.9 724.1,136.8C727.1,135.1 730.2,130.7 733.2,130.7C735.7,130.7 738.3,132.1 740.8,133C744.3,134.3 747.9,137.2 751.4,138.3C754.9,139.4 758.5,139.5 762,140.6C764.5,141.4 767.1,142.7 769.6,144.4C772.1,146.1 774.7,150.8 777.2,152.7C779,154 780.7,155.7 782.5,155.7C784.3,155.7 786,150.4 787.8,148.9C790.1,146.9 792.4,144.4 794.7,144.4C797,144.4 799.2,147.6 801.5,148.9C804.2,150.4 806.9,152.7 809.6,152.7C812.9,152.7 816.1,145.1 819.4,145.1C821.2,145.1 822.9,147.4 824.7,148.9C827,150.9 829.3,156.5 831.6,156.5C833.9,156.5 836.1,153.6 838.4,152.7C841.9,151.3 845.5,151 849,149.7C852.5,148.4 856.1,144.1 859.6,144.1C862.1,144.1 864.7,145.6 867.2,146.6C869.7,147.6 872.3,150.1 874.8,150.1C877.8,150.1 880.9,147.4 883.9,147.4C886.4,147.4 889,148.1 891.5,148.9C894,149.7 896.6,154 899.1,156.5C902.1,159.5 905.2,164.7 908.2,165.6C914.3,167.5 920.3,168.6 926.4,168.6C934,168.6 941.6,166.8 949.2,166.4C960.1,165.8 970.9,165.3 981.8,165.3" fill="none" stroke="#ff0d6a" stroke-width="2.9" stroke-linejoin="round" stroke-linecap="round"/>
<path d="M634.6,133.7C650.8,133.7 666.9,133.7 683.1,133.7C684.6,133.7 686.2,132.6 687.7,131.5C689.7,130.1 691.7,125.7 693.7,123.1C696.2,119.8 698.8,115.9 701.3,114C703.8,112.1 706.4,110.9 708.9,109.8C711.9,108.4 715,107.9 718,106.4C721,104.9 724.1,102.1 727.1,99.6C730.1,97.1 733.2,94 736.2,91.2C738,89.6 739.7,86.4 741.5,86.4C743.3,86.4 745.1,88.9 746.9,91.2C748.4,93.1 749.9,97.9 751.4,100.4C752.7,102.5 753.9,105.7 755.2,105.7C756.5,105.7 757.7,105 759,104.6C760.5,104.1 762.1,102.6 763.6,102.6C765.6,102.6 767.6,105.2 769.6,106.4C772.1,108 774.7,109.3 777.2,111C780.7,113.4 784.3,117.6 787.8,119.3C789.8,120.3 791.9,121.2 793.9,121.6C797.6,122.4 801.3,123.1 805,123.1C810.1,123.1 815.1,121.6 820.2,121.6C824.2,121.6 828.3,122.4 832.3,122.4C835.8,122.4 839.4,118.9 842.9,118.9C847,118.9 851,122.4 855.1,122.4C859.1,122.4 863.2,115.2 867.2,115.2C869.2,115.2 871.3,115.5 873.3,115.5C876.8,115.5 880.4,107.6 883.9,107.6C885.9,107.6 888,110 890,111.7C892,113.4 894.1,117.5 896.1,118.3C898.6,119.3 901.1,119.1 903.6,120.1C906.1,121.1 908.7,125.8 911.2,127.7C914.2,130 917.3,133 920.3,133C926.4,133 932.5,130 938.6,130C944.7,130 950.7,131.5 956.8,131.5C965.1,131.5 973.5,131.4 981.8,130.4" fill="none" stroke="#127312" stroke-width="2.9" stroke-linejoin="round" stroke-linecap="round"/>
<path d="M833.3,33V443" stroke="#000" stroke-width="2.6" stroke-dasharray="4.4 4.4"/>
<path d="M740.5,75L780.5,432.5" stroke="#000" stroke-width="2.6" stroke-dasharray="4.4 4.4"/>
<path d="M895.5,76L857.5,433.5" stroke="#000" stroke-width="2.6" stroke-dasharray="4.4 4.4"/>
<path d="M658.5,142.8V218" stroke="#ff1a1a" stroke-width="2.6"/>
<path d="M653.2,215.5L663.8,215.5L658.5,232Z" fill="#ff1a1a"/>
<path d="M634.3,31H982.5V444H634.3Z" fill="none" stroke="#111" stroke-width="2"/>
<path d="M634.3,444V451.5M646.7,444V448.5M659.2,444V448.5M671.6,444V448.5M684,444V451.5M696.5,444V448.5M708.9,444V448.5M721.3,444V448.5M733.8,444V451.5M746.2,444V448.5M758.7,444V448.5M771.1,444V448.5M783.5,444V451.5M796,444V448.5M808.4,444V448.5M820.8,444V448.5M833.3,444V451.5M845.7,444V448.5M858.1,444V448.5M870.6,444V448.5M883,444V451.5M895.5,444V448.5M907.9,444V448.5M920.3,444V448.5M932.8,444V451.5M945.2,444V448.5M957.6,444V448.5M970.1,444V448.5M982.5,444V451.5" stroke="#111" stroke-width="1.6"/>
<path d="M634.3,444H626.8M634.3,426.8H630.8M634.3,409.6H630.8M634.3,392.4H630.8M634.3,375.2H626.8M634.3,358H630.8M634.3,340.8H630.8M634.3,323.5H630.8M634.3,306.3H626.8M634.3,289.1H630.8M634.3,271.9H630.8M634.3,254.7H630.8M634.3,237.5H626.8M634.3,220.3H630.8M634.3,203.1H630.8M634.3,185.9H630.8M634.3,168.7H626.8M634.3,151.5H630.8M634.3,134.2H630.8M634.3,117H630.8M634.3,99.8H626.8M634.3,82.6H630.8M634.3,65.4H630.8M634.3,48.2H630.8M634.3,31H626.8" stroke="#111" stroke-width="1.6"/>
<text x="632.8" y="486.6" font-size="30" fill="#000" text-anchor="middle">–8</text>
<text x="682.5" y="486.6" font-size="30" fill="#000" text-anchor="middle">–6</text>
<text x="732.3" y="486.6" font-size="30" fill="#000" text-anchor="middle">–4</text>
<text x="782" y="486.6" font-size="30" fill="#000" text-anchor="middle">–2</text>
<text x="833.3" y="486.6" font-size="30" fill="#000" text-anchor="middle">0</text>
<text x="883" y="486.6" font-size="30" fill="#000" text-anchor="middle">2</text>
<text x="932.8" y="486.6" font-size="30" fill="#000" text-anchor="middle">4</text>
<text x="982.5" y="486.6" font-size="30" fill="#000" text-anchor="middle">6</text>
<text x="614" y="452.8" font-size="30" fill="#000" text-anchor="end">0</text>
<text x="614" y="384" font-size="30" fill="#000" text-anchor="end">2</text>
<text x="614" y="315.1" font-size="30" fill="#000" text-anchor="end">4</text>
<text x="614" y="246.3" font-size="30" fill="#000" text-anchor="end">6</text>
<text x="614" y="177.5" font-size="30" fill="#000" text-anchor="end">8</text>
<text x="614" y="108.6" font-size="30" fill="#000" text-anchor="end">10</text>
<text x="614" y="39.8" font-size="30" fill="#000" text-anchor="end">12</text>
<text x="803.2" y="528.5" font-size="29.2" fill="#000" text-anchor="middle">Energy (eV)</text>
<text x="557.5" y="237.5" font-size="28" fill="#000" text-anchor="middle" transform="rotate(-90 557.5 237.5)">PDOS (A. U.)</text>
<text x="976.5" y="114" font-size="16.3" fill="#127312" text-anchor="end">CN4 Te–Te</text>
<text x="976.5" y="153.5" font-size="16.3" fill="#ff0d6a" text-anchor="end">CN3 Te–Te</text>
<text x="976.5" y="188.4" font-size="16.3" fill="#6a0a0a" text-anchor="end">CN4</text>
<text x="976.5" y="222.5" font-size="16.3" fill="#12127a" text-anchor="end">CN3</text>
<text x="976.5" y="257.2" font-size="16.3" fill="#6e6e0a" text-anchor="end">CN4 Te–Te</text>
<text x="976.5" y="292.7" font-size="16.3" fill="#ff00ff" text-anchor="end">CN4</text>
<text x="976.5" y="327.1" font-size="16.3" fill="#ff00ff" text-anchor="end">CN3 Te–Te</text>
<text x="976.5" y="360.4" font-size="16.3" fill="#0000ff" text-anchor="end">CN3</text>
<text x="976.5" y="396.6" font-size="16.3" fill="#ff0000" text-anchor="end">CN2</text>
<text x="976.5" y="430.3" font-size="16.3" fill="#000" text-anchor="end">CN1</text>
<text x="637.5" y="124.6" font-size="24.3" fill="#000" text-anchor="start">Bulk</text>
<text x="637" y="264.8" font-size="24.3" fill="#000" text-anchor="start">Surf</text>
<text x="843.5" y="59.2" font-size="28" fill="#000" text-anchor="start"><tspan font-style="italic">E</tspan><tspan font-size="19.5" dy="7">F</tspan></text>
<text x="533" y="30.2" font-size="40" fill="#000" text-anchor="start" font-weight="bold">b</text>
<rect x="1285.3" y="25.8" width="14.1" height="417.8" fill="url(#hatch)" stroke="#9a9aa8" stroke-width="0.9"/>
<path d="M1113.5,443.6C1128.9,443.6 1144.2,443.6 1159.6,443.6C1162.5,443.6 1165.5,441.3 1168.4,440.1C1171.4,438.9 1174.3,438.3 1177.3,436.6C1180.8,434.6 1184.4,428.2 1187.9,425.9C1190.9,424 1193.8,423.5 1196.8,421.5C1199.2,419.9 1201.5,416.8 1203.9,414.4C1206.2,412.1 1208.6,407.9 1210.9,407.3C1212.7,406.8 1214.5,406.9 1216.3,406.5C1219.5,405.7 1222.8,397.3 1226,397.3C1228.7,397.3 1231.3,400.3 1234,400.3C1238.1,400.3 1242.3,394 1246.4,392.3C1249.3,391.1 1252.3,391.1 1255.2,389.6C1257.6,388.4 1259.9,384.3 1262.3,379.9C1264.7,375.5 1267,362.1 1269.4,358.6C1271.8,355.1 1274.1,355.4 1276.5,351.6C1278.3,348.8 1280,339.5 1281.8,332.1C1283.3,325.9 1284.7,315 1286.2,310.8C1287.3,307.7 1288.4,304 1289.5,304C1290.5,304 1291.4,306.6 1292.4,308.8C1294.2,312.9 1295.9,325 1297.7,332.1C1299.5,339.2 1301.2,345.8 1303,351.6C1304.8,357.4 1306.5,361.5 1308.3,367.5C1310.1,373.6 1311.9,383.1 1313.7,388.8C1315.5,394.4 1317.2,402.9 1319,402.9C1322.2,402.9 1325.5,399.4 1328.7,399.4C1331.9,399.4 1335.2,403.7 1338.4,404.4C1342.5,405.3 1346.7,405.2 1350.8,406.1C1355.5,407.1 1360.3,409.7 1365,412.7C1368.5,414.9 1372.1,422.8 1375.6,422.8C1378.9,422.8 1382.1,418.5 1385.4,418.5C1387.5,418.5 1389.5,423 1391.6,426C1394.5,430.2 1397.5,440.6 1400.4,441.9C1402.8,442.9 1405.1,443.7 1407.5,443.7C1415.2,443.7 1422.8,441.9 1430.5,441.9C1438.2,441.9 1445.9,441.9 1453.6,441.9C1458.9,441.9 1464.2,442.4 1469.5,442.8" fill="none" stroke="#000" stroke-width="3.0" stroke-linejoin="round" stroke-linecap="round"/>
<path d="M1113.5,351.6C1131.2,351.6 1149,351.6 1166.7,351.6C1170.2,351.6 1173.8,350.3 1177.3,348.9C1179.7,347.9 1182,345.1 1184.4,342.7C1186.8,340.3 1189.1,336.1 1191.5,333.9C1193.8,331.7 1196.2,330.7 1198.5,328.5C1201.8,325.4 1205,318.9 1208.3,316.1C1211,313.8 1213.6,313.7 1216.3,310.8C1217.8,309.2 1219.2,304.9 1220.7,300.2C1222.2,295.5 1223.6,282.7 1225.1,279C1226.9,274.5 1228.6,270.1 1230.4,270.1C1232.2,270.1 1233.9,274.6 1235.7,277.2C1237.5,279.8 1239.2,285 1241,286C1242.8,287 1244.6,287.8 1246.4,287.8C1248.7,287.8 1251.1,284.7 1253.4,282.5C1255.8,280.3 1258.1,273.6 1260.5,273.6C1262.3,273.6 1264,275.9 1265.8,277.2C1267.9,278.8 1269.9,282.5 1272,282.5C1274.1,282.5 1276.1,279.4 1278.2,277.2C1280.6,274.6 1282.9,269.8 1285.3,266.6C1287.7,263.4 1290,260.6 1292.4,257.7C1294.5,255.2 1296.5,250.3 1298.6,250.3C1300.1,250.3 1301.5,253.3 1303,255.9C1304.8,259 1306.5,267.1 1308.3,271.9C1310.1,276.8 1311.9,284 1313.7,285.2C1315.2,286.2 1316.6,286.9 1318.1,286.9C1319.6,286.9 1321,283.9 1322.5,283.9C1324.9,283.9 1327.2,286.9 1329.6,288.7C1331.7,290.3 1333.7,291.4 1335.8,294C1337.6,296.2 1339.3,302 1341.1,305.5C1342.9,309 1344.6,315.3 1346.4,315.3C1348.5,315.3 1350.5,314.7 1352.6,314.7C1355,314.7 1357.3,319.2 1359.7,320.6C1362.7,322.4 1365.6,322.9 1368.6,324.7C1370.9,326.1 1373.3,328 1375.6,330.3C1378.6,333.2 1381.5,338.9 1384.5,341.8C1387.5,344.7 1390.4,347.9 1393.4,348.9C1397.5,350.4 1401.7,351.6 1405.8,351.6C1411.1,351.6 1416.4,350.4 1421.7,349.8C1429.4,348.9 1437,347.2 1444.7,347.2C1453,347.2 1461.2,347.3 1469.5,348.4" fill="none" stroke="#ff0000" stroke-width="3.0" stroke-linejoin="round" stroke-linecap="round"/>
<path d="M1113.7,258.4C1129.2,258.4 1144.6,258.4 1160.1,258.4C1163.2,258.4 1166.3,255.2 1169.4,253.2C1173.1,250.8 1176.8,248.2 1180.5,244.8C1183.6,241.9 1186.7,237.8 1189.8,233.7C1192.3,230.4 1194.7,225.8 1197.2,222.6C1198.8,220.5 1200.3,217 1201.9,217C1204.7,217 1207.4,219.8 1210.2,219.8C1213.9,219.8 1217.6,214.5 1221.3,212.4C1224.4,210.6 1227.5,208.7 1230.6,207.7C1231.8,207.3 1233.1,206.8 1234.3,206.8C1236.5,206.8 1238.6,209.6 1240.8,209.6C1243,209.6 1245.1,202.2 1247.3,198.5C1249.2,195.3 1251,188.8 1252.9,188.8C1255.7,188.8 1258.4,195.1 1261.2,195.1C1263.4,195.1 1265.5,190.6 1267.7,188.2C1269.9,185.8 1272,184.4 1274.2,180.8C1276.1,177.7 1277.9,170.9 1279.8,165C1281.7,159.1 1283.5,148.7 1285.4,144.6C1286.8,141.6 1288.1,138 1289.5,138C1290.7,138 1291.8,139 1293,140C1295,141.8 1297,149.3 1299,154.9C1301.8,162.7 1304.6,172.6 1307.4,182.3C1309.9,190.9 1312.3,200.9 1314.8,209.7C1316.5,215.9 1318.3,227.6 1320,227.6C1321.4,227.6 1322.9,226.5 1324.3,225.5C1327.5,223.2 1330.6,208.7 1333.8,208.7C1335.5,208.7 1337.3,214.5 1339,217.1C1341.1,220.3 1343.2,226.2 1345.3,226.2C1347.8,226.2 1350.2,224 1352.7,224C1356.6,224 1360.4,225.5 1364.3,225.5C1367.1,225.5 1369.9,224.4 1372.7,223.4C1376.2,222.1 1379.8,215 1383.3,215C1385.4,215 1387.5,223.4 1389.6,228.7C1392.4,235.7 1395.2,251.6 1398,254C1400.8,256.4 1403.7,258.2 1406.5,258.2C1417,258.2 1427.6,256.9 1438.1,256.5C1448.6,256.1 1459.2,255.8 1469.7,255.7" fill="none" stroke="#0000ff" stroke-width="3.0" stroke-linejoin="round" stroke-linecap="round"/>
<path d="M1113.7,166C1129.2,166 1144.6,166 1160.1,166C1162.6,166 1165,164.7 1167.5,163.6C1171.2,161.9 1175,156.2 1178.7,153.9C1181.2,152.4 1183.6,152 1186.1,150.2C1188.6,148.4 1191,144.8 1193.5,140.9C1196,137 1198.4,127.1 1200.9,125.2C1202.1,124.2 1203.4,123.3 1204.6,123.3C1207.1,123.3 1209.6,125.7 1212.1,126.1C1214.9,126.6 1217.6,127 1220.4,127C1222.6,127 1224.7,122.9 1226.9,119.6C1229.4,115.8 1231.8,108.6 1234.3,102C1236.2,97 1238,89.4 1239.9,85.3C1241.1,82.6 1242.4,78.8 1243.6,78.8C1246.1,78.8 1248.5,83 1251,83C1252.9,83 1254.7,83 1256.6,83C1258.5,83 1260.3,86.9 1262.2,88C1264,89.1 1265.9,90.5 1267.7,90.5C1270.2,90.5 1272.7,89 1275.2,87.1C1277,85.7 1278.9,80.2 1280.7,76C1282.3,72.4 1283.9,65.3 1285.5,63.5C1286.5,62.4 1287.5,61.3 1288.5,61.3C1289.5,61.3 1290.6,62.8 1291.6,64.3C1293,66.3 1294.4,72.1 1295.8,76.9C1297.6,82.9 1299.3,94.5 1301.1,98C1303.9,103.5 1306.7,105.3 1309.5,108.5C1311.3,110.6 1313.2,112.2 1315,114.5C1317,117 1319.1,123.3 1321.1,123.3C1322.7,123.3 1324.4,118.8 1326,117C1328.2,114.5 1330.5,112 1332.7,110.6C1334.8,109.2 1336.9,108.9 1339,107.5C1341.3,106 1343.5,100.1 1345.8,100.1C1347.8,100.1 1349.7,103.4 1351.7,106.4C1354.5,110.7 1357.3,124.7 1360.1,131.7C1362.2,137 1364.3,144.5 1366.4,145.4C1368.5,146.3 1370.6,146.2 1372.7,146.9C1375.5,147.9 1378.4,150.9 1381.2,152.8C1384,154.7 1386.8,156.5 1389.6,158.1C1393.8,160.5 1398.1,164.4 1402.3,164.4C1407.2,164.4 1412.1,164.4 1417,164.4C1424,164.4 1431.1,162.3 1438.1,162.3C1448.6,162.3 1459.2,162.3 1469.7,162.3" fill="none" stroke="#0e7a72" stroke-width="3.0" stroke-linejoin="round" stroke-linecap="round"/>
<path d="M1317.2,27.8V442.6" stroke="#000" stroke-width="2.6" stroke-dasharray="4.4 4.4"/>
<path d="M1345.3,80V159" stroke="#777" stroke-width="1.2" stroke-dasharray="2 1.6"/>
<path d="M1333.8,192V273" stroke="#777" stroke-width="1.2" stroke-dasharray="2 1.6"/>
<path d="M1384.3,192V273" stroke="#777" stroke-width="1.2" stroke-dasharray="2 1.6"/>
<path d="M1113.7,25.8H1469.8V443.6H1113.7Z" fill="none" stroke="#111" stroke-width="2"/>
<path d="M1113.7,443.6V452.6M1126.4,443.6V449.1M1139.1,443.6V449.1M1151.9,443.6V449.1M1164.6,443.6V452.6M1177.3,443.6V449.1M1190,443.6V449.1M1202.7,443.6V449.1M1215.4,443.6V452.6M1228.2,443.6V449.1M1240.9,443.6V449.1M1253.6,443.6V449.1M1266.3,443.6V452.6M1279,443.6V449.1M1291.8,443.6V449.1M1304.5,443.6V449.1M1317.2,443.6V452.6M1329.9,443.6V449.1M1342.6,443.6V449.1M1355.3,443.6V449.1M1368.1,443.6V452.6M1380.8,443.6V449.1M1393.5,443.6V449.1M1406.2,443.6V449.1M1418.9,443.6V452.6M1431.6,443.6V449.1M1444.4,443.6V449.1M1457.1,443.6V449.1M1469.8,443.6V452.6" stroke="#111" stroke-width="1.6"/>
<path d="M1113.7,443.6H1105.2M1113.7,439H1109.2M1113.7,434.3H1109.2M1113.7,429.7H1109.2M1113.7,425H1109.2M1113.7,420.4H1109.2M1113.7,415.7H1109.2M1113.7,411.1H1109.2M1113.7,406.5H1109.2M1113.7,401.8H1109.2M1113.7,397.2H1105.2M1113.7,392.5H1109.2M1113.7,387.9H1109.2M1113.7,383.3H1109.2M1113.7,378.6H1109.2M1113.7,374H1109.2M1113.7,369.3H1109.2M1113.7,364.7H1109.2M1113.7,360H1109.2M1113.7,355.4H1109.2M1113.7,350.8H1105.2M1113.7,346.1H1109.2M1113.7,341.5H1109.2M1113.7,336.8H1109.2M1113.7,332.2H1109.2M1113.7,327.5H1109.2M1113.7,322.9H1109.2M1113.7,318.3H1109.2M1113.7,313.6H1109.2M1113.7,309H1109.2M1113.7,304.3H1105.2M1113.7,299.7H1109.2M1113.7,295H1109.2M1113.7,290.4H1109.2M1113.7,285.8H1109.2M1113.7,281.1H1109.2M1113.7,276.5H1109.2M1113.7,271.8H1109.2M1113.7,267.2H1109.2M1113.7,262.6H1109.2M1113.7,257.9H1105.2M1113.7,253.3H1109.2M1113.7,248.6H1109.2M1113.7,244H1109.2M1113.7,239.3H1109.2M1113.7,234.7H1109.2M1113.7,230.1H1109.2M1113.7,225.4H1109.2M1113.7,220.8H1109.2M1113.7,216.1H1109.2M1113.7,211.5H1105.2M1113.7,206.8H1109.2M1113.7,202.2H1109.2M1113.7,197.6H1109.2M1113.7,192.9H1109.2M1113.7,188.3H1109.2M1113.7,183.6H1109.2M1113.7,179H1109.2M1113.7,174.4H1109.2M1113.7,169.7H1109.2M1113.7,165.1H1105.2M1113.7,160.4H1109.2M1113.7,155.8H1109.2M1113.7,151.1H1109.2M1113.7,146.5H1109.2M1113.7,141.9H1109.2M1113.7,137.2H1109.2M1113.7,132.6H1109.2M1113.7,127.9H1109.2M1113.7,123.3H1109.2M1113.7,118.6H1105.2M1113.7,114H1109.2M1113.7,109.4H1109.2M1113.7,104.7H1109.2M1113.7,100.1H1109.2M1113.7,95.4H1109.2M1113.7,90.8H1109.2M1113.7,86.1H1109.2M1113.7,81.5H1109.2M1113.7,76.9H1109.2M1113.7,72.2H1105.2M1113.7,67.6H1109.2M1113.7,62.9H1109.2M1113.7,58.3H1109.2M1113.7,53.7H1109.2M1113.7,49H1109.2M1113.7,44.4H1109.2M1113.7,39.7H1109.2M1113.7,35.1H1109.2M1113.7,30.4H1109.2M1113.7,25.8H1105.2" stroke="#111" stroke-width="1.5"/>
<text x="1112.2" y="486.6" font-size="30" fill="#000" text-anchor="middle">–8</text>
<text x="1163.1" y="486.6" font-size="30" fill="#000" text-anchor="middle">–6</text>
<text x="1213.9" y="486.6" font-size="30" fill="#000" text-anchor="middle">–4</text>
<text x="1264.8" y="486.6" font-size="30" fill="#000" text-anchor="middle">–2</text>
<text x="1317.2" y="486.6" font-size="30" fill="#000" text-anchor="middle">0</text>
<text x="1368.1" y="486.6" font-size="30" fill="#000" text-anchor="middle">2</text>
<text x="1418.9" y="486.6" font-size="30" fill="#000" text-anchor="middle">4</text>
<text x="1469.8" y="486.6" font-size="30" fill="#000" text-anchor="middle">6</text>
<text x="1093.5" y="452.4" font-size="30" fill="#000" text-anchor="end">0</text>
<text x="1093.5" y="406" font-size="30" fill="#000" text-anchor="end">1</text>
<text x="1093.5" y="359.6" font-size="30" fill="#000" text-anchor="end">2</text>
<text x="1093.5" y="313.1" font-size="30" fill="#000" text-anchor="end">3</text>
<text x="1093.5" y="266.7" font-size="30" fill="#000" text-anchor="end">4</text>
<text x="1093.5" y="220.3" font-size="30" fill="#000" text-anchor="end">5</text>
<text x="1093.5" y="173.9" font-size="30" fill="#000" text-anchor="end">6</text>
<text x="1093.5" y="127.4" font-size="30" fill="#000" text-anchor="end">7</text>
<text x="1093.5" y="81" font-size="30" fill="#000" text-anchor="end">8</text>
<text x="1093.5" y="34.6" font-size="30" fill="#000" text-anchor="end">9</text>
<text x="1276.7" y="528.5" font-size="29.2" fill="#000" text-anchor="middle">Energy (eV)</text>
<text x="1050.5" y="235" font-size="28" fill="#000" text-anchor="middle" transform="rotate(-90 1050.5 235)">PDOS (A. U.)</text>
<text x="1118.3" y="100.5" font-size="20.5" fill="#0e7a72" text-anchor="start">Bulk–tetra</text>
<text x="1118.3" y="207.4" font-size="20.5" fill="#0000ff" text-anchor="start">Bulk–octa</text>
<text x="1118.3" y="294" font-size="20.5" fill="#ff0000" text-anchor="start">Surf–tetra</text>
<text x="1118.3" y="390.5" font-size="20.5" fill="#000" text-anchor="start">Surf–octa</text>
<text x="1326.5" y="55.8" font-size="28" fill="#000" text-anchor="start"><tspan font-style="italic">E</tspan><tspan font-size="19.5" dy="7">F</tspan></text>
<text x="1026" y="30.2" font-size="40" fill="#000" text-anchor="start" font-weight="bold">c</text>
<path d="M1613,442.2C1615.7,442.2 1618.4,442.2 1621.1,442.2C1622.5,442.2 1623.8,432.8 1625.2,422.4C1626.5,412.3 1627.9,376.9 1629.2,351.6C1630.2,332.7 1631.2,298.2 1632.2,290.9C1632.8,286.8 1633.3,282.8 1633.9,282.8C1634.6,282.8 1635.2,289.1 1635.9,295C1637,305.1 1638.2,339.5 1639.3,361.7C1640.3,382 1641.4,412.2 1642.4,422.4C1643.4,432.2 1644.4,442.2 1645.4,442.2C1657.9,442.2 1670.3,442.2 1682.8,442.2C1684.2,442.2 1685.5,432.4 1686.9,422.4C1688.2,412.6 1689.6,381.2 1690.9,361.7C1691.9,347.1 1692.9,327.3 1693.9,319.2C1694.4,315.1 1694.9,310.1 1695.4,310.1C1696.1,310.1 1696.7,314.8 1697.4,319.2C1698.6,327.1 1699.8,357.6 1701,371.8C1702.4,388 1703.7,404.5 1705.1,412.3C1706.4,419.9 1707.8,425.6 1709.1,428.4C1710.8,432 1712.5,435.5 1714.2,435.5C1715.9,435.5 1717.5,433.3 1719.2,430.5C1720.6,428.2 1721.9,420.9 1723.3,412.3C1724.3,406 1725.3,391.7 1726.3,381.9C1727.3,372.1 1728.3,356.7 1729.3,353.6C1729.8,352.1 1730.3,350.6 1730.8,350.6C1731.7,350.6 1732.5,354.2 1733.4,357.7C1734.7,363 1736.1,382.2 1737.4,392C1738.8,402 1740.1,413.9 1741.5,418.3C1744.2,427 1746.9,431.9 1749.6,434.5C1753,437.7 1756.3,440.1 1759.7,440.6C1763.7,441.2 1767.8,441.4 1771.8,441.6C1777.9,441.9 1783.9,442.2 1790,442.2C1800.2,442.2 1810.3,441.9 1820.5,441.9C1826.1,441.9 1831.7,442.2 1837.3,442.2C1839,442.2 1840.7,436.7 1842.4,432.1C1843.5,429 1844.7,420.1 1845.8,418.6C1846.6,417.5 1847.5,416.6 1848.3,416.6C1849.7,416.6 1851.1,421.6 1852.5,423.7C1855.3,427.9 1858.1,434.7 1860.9,434.7C1864.3,434.7 1867.7,432.7 1871.1,431.3C1873.9,430.1 1876.7,427.9 1879.5,426.7C1882.3,425.5 1885.1,425.1 1887.9,423.7C1891,422.2 1894.1,416.1 1897.2,416.1C1900.3,416.1 1903.4,420.1 1906.5,422C1909.3,423.7 1912.1,426.6 1914.9,427.1C1917.2,427.5 1919.4,427.5 1921.7,427.9C1924.5,428.4 1927.3,432.1 1930.1,432.1C1932.3,432.1 1934.6,430.1 1936.8,430.1C1939.3,430.1 1941.9,432.1 1944.4,432.1C1946.9,432.1 1949.5,431.3 1952,431.3C1955.1,431.3 1958.2,432.8 1961.3,434.7" fill="none" stroke="#000" stroke-width="3.0" stroke-linejoin="round" stroke-linecap="round"/>
<path d="M1613,360.1C1625.8,360.1 1638.7,360.1 1651.5,360.1C1652.8,360.1 1654.2,356.7 1655.5,351.6C1656.9,346.4 1658.2,290.8 1659.6,270.7C1660.7,254 1661.9,233 1663,230.2C1663.7,228.5 1664.3,227.2 1665,227.2C1665.9,227.2 1666.7,240 1667.6,250.5C1668.6,263.1 1669.7,293.7 1670.7,311.1C1671.7,328 1672.7,353.6 1673.7,355.6C1675.4,359 1677.1,360.7 1678.8,360.7C1680.8,360.7 1682.8,360.2 1684.8,359.7C1688.2,358.9 1691.6,357 1695,355.6C1698,354.3 1701,354.1 1704,351.6C1705.7,350.2 1707.4,342.3 1709.1,335.4C1711.1,327.2 1713.2,309.9 1715.2,301C1716.9,293.7 1718.5,283.7 1720.2,282.8C1721.2,282.2 1722.3,281.8 1723.3,281.8C1724.6,281.8 1726,287.2 1727.3,290.9C1729.3,296.5 1731.4,306.1 1733.4,313.2C1735.4,320.2 1737.4,329.5 1739.4,333.4C1741.4,337.4 1743.5,341.4 1745.5,341.9C1746.9,342.2 1748.2,342.2 1749.6,342.5C1752.3,343.1 1755,347.9 1757.7,347.9C1761.1,347.9 1764.4,347.9 1767.8,347.9C1770.1,347.9 1772.5,337.8 1774.8,337.8C1777.2,337.8 1779.5,343.1 1781.9,345.1C1783.5,346.5 1785.1,347.6 1786.7,348.7C1790.1,351 1793.5,354.6 1796.9,354.6C1799.7,354.6 1802.5,352 1805.3,352C1808.1,352 1810.9,355.1 1813.7,355.4C1817.1,355.7 1820.4,355.9 1823.8,355.9C1827.7,355.9 1831.7,353.7 1835.6,353.7C1838.7,353.7 1841.8,359.6 1844.9,359.6C1847.4,359.6 1850,355.3 1852.5,352.9C1854.8,350.8 1857,346.1 1859.3,346.1C1862.1,346.1 1864.9,353.7 1867.7,353.7C1870.5,353.7 1873.3,351.2 1876.1,351.2C1879.5,351.2 1882.8,353.7 1886.2,353.7C1890.1,353.7 1894.1,352.2 1898,351.2C1900.5,350.5 1903.1,348.7 1905.6,348.7C1908.7,348.7 1911.8,352.5 1914.9,352.5C1919.4,352.5 1923.9,350.8 1928.4,350.8C1931.8,350.8 1935.1,353.7 1938.5,353.7C1944.1,353.7 1949.8,350.8 1955.4,350.8C1957.4,350.8 1959.3,351.9 1961.3,352.9" fill="none" stroke="#ff0000" stroke-width="3.0" stroke-linejoin="round" stroke-linecap="round"/>
<path d="M1613.3,276.7C1636.3,276.7 1659.4,276.7 1682.4,276.7C1684.6,276.7 1686.7,273.7 1688.9,271.2C1691.8,267.8 1694.8,256.7 1697.7,253.6C1699.9,251.3 1702.1,248.8 1704.3,248.8C1706.1,248.8 1708,253.7 1709.8,255.8C1711.6,257.8 1713.4,261.3 1715.2,261.3C1718.1,261.3 1721.1,258.4 1724,255.8C1726.2,253.8 1728.4,246 1730.6,246C1732.1,246 1733.5,248 1735,249.2C1736.8,250.7 1738.7,254.1 1740.5,254.1C1743,254.1 1745.6,249.5 1748.1,244.9C1750.7,240.2 1753.2,227.6 1755.8,216.4C1757.6,208.4 1759.5,197.3 1761.3,187.9C1762.6,181.2 1763.9,168.1 1765.2,168.1C1766.5,168.1 1767.7,176.8 1769,183.5C1770.8,193 1772.6,216.1 1774.4,227.3C1776.6,241 1778.8,255.1 1781,260.2C1782.9,264.6 1784.7,268.9 1786.6,268.9C1789.5,268.9 1792.4,262.4 1795.3,262.4C1799,262.4 1802.6,266.3 1806.3,266.7C1809.2,267 1812.2,266.9 1815.1,267.2C1820.2,267.6 1825.3,269.1 1830.4,270.7C1834.4,272 1838.5,276.6 1842.5,276.6C1844.3,276.6 1846.2,270 1848,266.7C1849.4,264.1 1850.9,259.1 1852.3,259.1C1853.8,259.1 1855.2,264.7 1856.7,266.7C1858.9,269.7 1861.1,273.8 1863.3,273.8C1868.4,273.8 1873.5,272.9 1878.6,272.9C1885.9,272.9 1893.3,274.9 1900.6,275.1C1921,275.7 1941.5,276 1961.9,276" fill="none" stroke="#0000ff" stroke-width="3.0" stroke-linejoin="round" stroke-linecap="round"/>
<path d="M1613.3,193.3C1621.7,193.3 1630.1,193.3 1638.5,193.3C1640,193.3 1641.4,189.6 1642.9,183.5C1644,178.9 1645.1,142.2 1646.2,117.7C1646.9,101.3 1647.7,72.6 1648.4,62.9C1649.1,53.2 1649.9,43.2 1650.6,43.2C1651.3,43.2 1652.1,46.8 1652.8,51.9C1653.5,56.7 1654.2,90.7 1654.9,106.7C1656,131.8 1657.1,163.5 1658.2,172.5C1659.5,183.5 1660.9,192.7 1662.2,192.7C1663.4,192.7 1664.7,189 1665.9,183.5C1667,178.6 1668.1,142.2 1669.2,117.7C1669.9,101.3 1670.7,69 1671.4,62.9C1672.1,56.8 1672.9,51.9 1673.6,51.9C1674.3,51.9 1675.1,58.6 1675.8,65.1C1676.9,74.8 1678,110.9 1679.1,128.7C1680,143.8 1681,168.1 1681.9,168.1C1683.1,168.1 1684.4,136.6 1685.6,117.7C1686.6,102.9 1687.5,73.7 1688.5,67.3C1689,64 1689.5,60.7 1690,60.7C1690.7,60.7 1691.5,67.4 1692.2,73.9C1693.3,83.7 1694.4,123.4 1695.5,139.6C1696.8,159.2 1698.2,185.7 1699.5,185.7C1700.7,185.7 1702,182.9 1703.2,179.1C1704.3,175.7 1705.4,150.4 1706.5,144C1707.6,137.6 1708.7,130.9 1709.8,130.9C1710.9,130.9 1711.9,139 1713,144C1714.5,150.8 1715.9,166.9 1717.4,168.1C1718.1,168.7 1718.9,169.2 1719.6,169.2C1721.8,169.2 1724,162.2 1726.2,161.5C1728,160.9 1729.9,161.1 1731.7,160.5C1733.2,160 1734.6,156.7 1736.1,152.8C1737.9,148.1 1739.7,128.3 1741.5,122.1C1743,117.1 1744.4,111.1 1745.9,111.1C1747.4,111.1 1748.8,119.9 1750.3,126.5C1752.1,134.7 1754,156.4 1755.8,161.5C1757.6,166.6 1759.5,170.5 1761.3,171.4C1764.9,173.2 1768.6,173.3 1772.2,174.3C1775.1,175.1 1778.1,175.5 1781,176.9C1782.9,177.8 1784.7,183.4 1786.6,183.4C1788.8,183.4 1791,181.3 1793.2,179.1C1795.4,177 1797.5,169.8 1799.7,165.9C1801.5,162.6 1803.4,157.1 1805.2,157.1C1807,157.1 1808.9,159.4 1810.7,161.5C1812.9,164 1815.1,174.7 1817.3,174.7C1818.7,174.7 1820.2,166 1821.6,157.1C1822.7,150.2 1823.8,126.3 1824.9,117.7C1825.6,112 1826.4,104.5 1827.1,104.5C1827.8,104.5 1828.6,109 1829.3,113.3C1830.4,119.7 1831.5,143 1832.6,152.8C1834.1,165.9 1835.5,179.1 1837,183.4C1838.8,188.8 1840.7,193.3 1842.5,193.3C1844.3,193.3 1846.2,191.8 1848,190C1849.8,188.2 1851.6,178.3 1853.4,174.7C1854.9,171.7 1856.3,167.7 1857.8,167.7C1859.3,167.7 1860.7,172.9 1862.2,174.7C1864,177 1865.9,178.6 1867.7,180.2C1870.6,182.7 1873.5,186.7 1876.4,186.7C1880.1,186.7 1883.7,183.4 1887.4,183.4C1889.6,183.4 1891.8,185.2 1894,185.2C1896.6,185.2 1899.1,181.8 1901.7,180.2C1904.6,178.4 1907.5,175.1 1910.4,175.1C1913,175.1 1915.5,182.9 1918.1,183.4C1921.8,184.1 1925.4,184 1929.1,184.5C1933.5,185 1937.8,186.7 1942.2,186.7C1945.1,186.7 1948.1,185.6 1951,185.6C1954.6,185.6 1958.3,186.9 1961.9,188.9" fill="none" stroke="#0e7070" stroke-width="3.0" stroke-linejoin="round" stroke-linecap="round"/>
<path d="M1787.3,29V443.5" stroke="#000" stroke-width="2.6" stroke-dasharray="4.4 4.4"/>
<path d="M1613.2,27H1961.5V444.5H1613.2Z" fill="none" stroke="#111" stroke-width="2"/>
<path d="M1613.2,444.5V453.5M1630.6,444.5V449.5M1648,444.5V449.5M1665.4,444.5V449.5M1682.9,444.5V449.5M1700.3,444.5V453.5M1717.7,444.5V449.5M1735.1,444.5V449.5M1752.5,444.5V449.5M1769.9,444.5V449.5M1787.3,444.5V453.5M1804.8,444.5V449.5M1822.2,444.5V449.5M1839.6,444.5V449.5M1857,444.5V449.5M1874.4,444.5V453.5M1891.8,444.5V449.5M1909.3,444.5V449.5M1926.7,444.5V449.5M1944.1,444.5V449.5M1961.5,444.5V453.5" stroke="#111" stroke-width="1.6"/>
<path d="M1613.2,444.5H1604.2M1613.2,423.6H1608.2M1613.2,402.8H1608.2M1613.2,381.9H1608.2M1613.2,361H1604.2M1613.2,340.1H1608.2M1613.2,319.2H1608.2M1613.2,298.4H1608.2M1613.2,277.5H1604.2M1613.2,256.6H1608.2M1613.2,235.8H1608.2M1613.2,214.9H1608.2M1613.2,194H1604.2M1613.2,173.1H1608.2M1613.2,152.2H1608.2M1613.2,131.4H1608.2M1613.2,110.5H1604.2M1613.2,89.6H1608.2M1613.2,68.8H1608.2M1613.2,47.9H1608.2M1613.2,27H1604.2" stroke="#111" stroke-width="1.6"/>
<text x="1611.7" y="486.6" font-size="30" fill="#000" text-anchor="middle">–10</text>
<text x="1698.8" y="486.6" font-size="30" fill="#000" text-anchor="middle">–5</text>
<text x="1787.3" y="486.6" font-size="30" fill="#000" text-anchor="middle">0</text>
<text x="1874.4" y="486.6" font-size="30" fill="#000" text-anchor="middle">5</text>
<text x="1961.5" y="486.6" font-size="30" fill="#000" text-anchor="middle">10</text>
<text x="1593" y="453.3" font-size="30" fill="#000" text-anchor="end">0</text>
<text x="1593" y="369.8" font-size="30" fill="#000" text-anchor="end">2</text>
<text x="1593" y="286.3" font-size="30" fill="#000" text-anchor="end">4</text>
<text x="1593" y="202.8" font-size="30" fill="#000" text-anchor="end">6</text>
<text x="1593" y="119.3" font-size="30" fill="#000" text-anchor="end">8</text>
<text x="1593" y="35.8" font-size="30" fill="#000" text-anchor="end">10</text>
<text x="1800.4" y="528.5" font-size="29.2" fill="#000" text-anchor="middle">Energy (eV)</text>
<text x="1535.5" y="235" font-size="28" fill="#000" text-anchor="middle" transform="rotate(-90 1535.5 235)">PDOS (A. U.)</text>
<text x="1888" y="165.9" font-size="28.2" fill="#0e7070" text-anchor="start">OOH</text>
<text x="1888.5" y="254.7" font-size="28.2" fill="#0000ff" text-anchor="start">O</text>
<text x="1886.5" y="333.5" font-size="28.2" fill="#ff0000" text-anchor="start">OH</text>
<text x="1892.5" y="408.5" font-size="28.2" fill="#000" text-anchor="start">H<tspan font-size="19.5" dy="8">2</tspan><tspan dy="-8">O</tspan></text>
<text x="1791" y="55.9" font-size="28" fill="#000" text-anchor="start"><tspan font-style="italic">E</tspan><tspan font-size="19.5" dy="7">F</tspan></text>
<text x="1511" y="30.6" font-size="40" fill="#000" text-anchor="start" font-weight="bold">d</text>
<path d="M66.4,688.6L99,687.5" stroke="#74b8c6" stroke-width="2.0"/><path d="M99,687.5L131.5,686.4" stroke="#f0b868" stroke-width="2.0"/>
<path d="M131.5,686.4L191.9,686.4" stroke="#f0b868" stroke-width="2.0"/><path d="M191.9,686.4L252.4,686.4" stroke="#f0b868" stroke-width="2.0"/>
<path d="M252.4,686.4L253.1,732.9" stroke="#f0b868" stroke-width="2.0"/><path d="M253.1,732.9L253.8,779.4" stroke="#74b8c6" stroke-width="2.0"/>
<path d="M253.8,779.4L312.4,778.3" stroke="#74b8c6" stroke-width="2.0"/><path d="M312.4,778.3L371,777.2" stroke="#f0b868" stroke-width="2.0"/>
<path d="M387.5,775L413.4,730.7" stroke="#f0b868" stroke-width="2.0"/><path d="M413.4,730.7L439.3,686.4" stroke="#74b8c6" stroke-width="2.0"/>
<path d="M387.5,775L414.5,822.6" stroke="#f0b868" stroke-width="2.0"/><path d="M414.5,822.6L441.5,870.2" stroke="#74b8c6" stroke-width="2.0"/>
<path d="M439.3,686.4L472.8,685.3" stroke="#74b8c6" stroke-width="2.0"/><path d="M472.8,685.3L506.2,684.2" stroke="#f0b868" stroke-width="2.0"/>
<path d="M506.2,684.2L566,684.2" stroke="#f0b868" stroke-width="2.0"/><path d="M566,684.2L625.8,684.2" stroke="#f0b868" stroke-width="2.0"/>
<path d="M625.8,684.2L626.2,730" stroke="#f0b868" stroke-width="2.0"/><path d="M626.2,730L626.7,775.9" stroke="#74b8c6" stroke-width="2.0"/>
<path d="M626.7,775.9L685.4,775.5" stroke="#74b8c6" stroke-width="2.0"/><path d="M685.4,775.5L744,775" stroke="#f0b868" stroke-width="2.0"/>
<path d="M760.4,772.8L786.7,727.8" stroke="#f0b868" stroke-width="2.0"/><path d="M786.7,727.8L813,682.9" stroke="#74b8c6" stroke-width="2.0"/>
<path d="M760.4,772.8L787.7,819.8" stroke="#f0b868" stroke-width="2.0"/><path d="M787.7,819.8L815,866.7" stroke="#74b8c6" stroke-width="2.0"/>
<path d="M253.8,779.4L254.2,824.8" stroke="#74b8c6" stroke-width="2.0"/><path d="M254.2,824.8L254.6,870.2" stroke="#f0b868" stroke-width="2.0"/>
<path d="M67.8,873.3L100.8,871.8" stroke="#74b8c6" stroke-width="2.0"/><path d="M100.8,871.8L133.7,870.2" stroke="#f0b868" stroke-width="2.0"/>
<path d="M133.7,870.2L194.1,870.2" stroke="#f0b868" stroke-width="2.0"/><path d="M194.1,870.2L254.6,870.2" stroke="#f0b868" stroke-width="2.0"/>
<path d="M254.6,870.2L255.3,916.7" stroke="#f0b868" stroke-width="2.0"/><path d="M255.3,916.7L256,963.2" stroke="#74b8c6" stroke-width="2.0"/>
<path d="M256,963.2L314.6,963.2" stroke="#74b8c6" stroke-width="2.0"/><path d="M314.6,963.2L373.3,963.2" stroke="#f0b868" stroke-width="2.0"/>
<path d="M388.8,960L415.1,915.1" stroke="#f0b868" stroke-width="2.0"/><path d="M415.1,915.1L441.5,870.2" stroke="#74b8c6" stroke-width="2.0"/>
<path d="M388.8,960L416.3,1006.5" stroke="#f0b868" stroke-width="2.0"/><path d="M416.3,1006.5L443.8,1053" stroke="#74b8c6" stroke-width="2.0"/>
<path d="M441.5,870.2L474.8,869.1" stroke="#74b8c6" stroke-width="2.0"/><path d="M474.8,869.1L508,868" stroke="#f0b868" stroke-width="2.0"/>
<path d="M508,868L568,867.5" stroke="#f0b868" stroke-width="2.0"/><path d="M568,867.5L628,867" stroke="#f0b868" stroke-width="2.0"/>
<path d="M628,867L628.5,913.5" stroke="#f0b868" stroke-width="2.0"/><path d="M628.5,913.5L628.9,960" stroke="#74b8c6" stroke-width="2.0"/>
<path d="M628.9,960L687.5,959.4" stroke="#74b8c6" stroke-width="2.0"/><path d="M687.5,959.4L746.2,958.8" stroke="#f0b868" stroke-width="2.0"/>
<path d="M761.7,956.6L788.4,911.7" stroke="#f0b868" stroke-width="2.0"/><path d="M788.4,911.7L815,866.7" stroke="#74b8c6" stroke-width="2.0"/>
<path d="M761.7,956.6L789,1003.1" stroke="#f0b868" stroke-width="2.0"/><path d="M789,1003.1L816.2,1049.6" stroke="#74b8c6" stroke-width="2.0"/>
<path d="M256,963.2L256.4,1008.1" stroke="#74b8c6" stroke-width="2.0"/><path d="M256.4,1008.1L256.9,1053" stroke="#f0b868" stroke-width="2.0"/>
<path d="M70,1057.5L103.2,1055.8" stroke="#74b8c6" stroke-width="2.0"/><path d="M103.2,1055.8L136.4,1054" stroke="#f0b868" stroke-width="2.0"/>
<path d="M136.4,1054L196.6,1053.5" stroke="#f0b868" stroke-width="2.0"/><path d="M196.6,1053.5L256.9,1053" stroke="#f0b868" stroke-width="2.0"/>
<path d="M628.9,960L629.5,1005.2" stroke="#74b8c6" stroke-width="2.0"/><path d="M629.5,1005.2L630.2,1050.5" stroke="#f0b868" stroke-width="2.0"/>
<path d="M443.8,1053L477,1052.4" stroke="#74b8c6" stroke-width="2.0"/><path d="M477,1052.4L510.2,1051.8" stroke="#f0b868" stroke-width="2.0"/>
<path d="M510.2,1051.8L570.2,1051.2" stroke="#f0b868" stroke-width="2.0"/><path d="M570.2,1051.2L630.2,1050.5" stroke="#f0b868" stroke-width="2.0"/>
<path d="M66.4,688.6L31,643" stroke="#74b8c6" stroke-width="2"/>
<path d="M66.4,688.6L32.5,736" stroke="#74b8c6" stroke-width="2"/>
<path d="M67.8,873.3L33,829" stroke="#74b8c6" stroke-width="2"/>
<path d="M67.8,873.3L35,918" stroke="#74b8c6" stroke-width="2"/>
<path d="M70,1057.5L36,1013" stroke="#74b8c6" stroke-width="2"/>
<path d="M70,1057.5L37,1102" stroke="#74b8c6" stroke-width="2"/>
<path d="M252.4,686.4L252.4,641" stroke="#f0b868" stroke-width="2"/>
<path d="M625.8,684.2L625.8,640" stroke="#f0b868" stroke-width="2"/>
<path d="M439.3,686.4L405,640" stroke="#74b8c6" stroke-width="2"/>
<path d="M813,682.9L779,637.5" stroke="#74b8c6" stroke-width="2"/>
<path d="M813,682.9L848,682" stroke="#74b8c6" stroke-width="2"/>
<path d="M815,866.7L849,866" stroke="#74b8c6" stroke-width="2"/>
<path d="M816.2,1049.6L849.5,1049" stroke="#74b8c6" stroke-width="2"/>
<path d="M443.8,1053L410,1100" stroke="#74b8c6" stroke-width="2"/>
<path d="M816.2,1049.6L782,1096" stroke="#74b8c6" stroke-width="2"/>
<path d="M256.9,1053L256.9,1100" stroke="#f0b868" stroke-width="2"/>
<path d="M630.2,1050.5L630.2,1098" stroke="#f0b868" stroke-width="2"/>
<circle cx="66.4" cy="688.6" r="12" fill="url(#gT)"/><ellipse cx="60.6" cy="694.6" rx="2.4" ry="1.2" fill="#c8fcff" opacity="0.75" transform="rotate(40 60.6 694.6)"/>
<circle cx="131.5" cy="686.4" r="18.2" fill="url(#gO)"/><ellipse cx="123.9" cy="675.1" rx="4" ry="1.6" fill="#ffe2a0" opacity="0.8" transform="rotate(-30 123.9 675.1)"/><ellipse cx="122.4" cy="696.4" rx="2.9" ry="1.6" fill="#ffe2a0" opacity="0.8" transform="rotate(40 122.4 696.4)"/>
<circle cx="252.4" cy="686.4" r="18.2" fill="url(#gO)"/><ellipse cx="244.8" cy="675.1" rx="4" ry="1.6" fill="#ffe2a0" opacity="0.8" transform="rotate(-30 244.8 675.1)"/><ellipse cx="243.3" cy="696.4" rx="2.9" ry="1.6" fill="#ffe2a0" opacity="0.8" transform="rotate(40 243.3 696.4)"/>
<circle cx="439.3" cy="686.4" r="12" fill="url(#gT)"/><ellipse cx="433.5" cy="692.4" rx="2.4" ry="1.2" fill="#c8fcff" opacity="0.75" transform="rotate(40 433.5 692.4)"/>
<circle cx="506.2" cy="684.2" r="18.2" fill="url(#gO)"/><ellipse cx="498.6" cy="672.9" rx="4" ry="1.6" fill="#ffe2a0" opacity="0.8" transform="rotate(-30 498.6 672.9)"/><ellipse cx="497.1" cy="694.2" rx="2.9" ry="1.6" fill="#ffe2a0" opacity="0.8" transform="rotate(40 497.1 694.2)"/>
<circle cx="625.8" cy="684.2" r="18.2" fill="url(#gO)"/><ellipse cx="618.2" cy="672.9" rx="4" ry="1.6" fill="#ffe2a0" opacity="0.8" transform="rotate(-30 618.2 672.9)"/><ellipse cx="616.7" cy="694.2" rx="2.9" ry="1.6" fill="#ffe2a0" opacity="0.8" transform="rotate(40 616.7 694.2)"/>
<circle cx="813" cy="682.9" r="12" fill="url(#gT)"/><ellipse cx="807.2" cy="688.9" rx="2.4" ry="1.2" fill="#c8fcff" opacity="0.75" transform="rotate(40 807.2 688.9)"/>
<circle cx="253.8" cy="779.4" r="12" fill="url(#gT)"/><ellipse cx="248" cy="785.4" rx="2.4" ry="1.2" fill="#c8fcff" opacity="0.75" transform="rotate(40 248 785.4)"/>
<circle cx="371" cy="777.2" r="18.2" fill="url(#gO)"/><ellipse cx="363.4" cy="765.9" rx="4" ry="1.6" fill="#ffe2a0" opacity="0.8" transform="rotate(-30 363.4 765.9)"/><ellipse cx="361.9" cy="787.2" rx="2.9" ry="1.6" fill="#ffe2a0" opacity="0.8" transform="rotate(40 361.9 787.2)"/>
<circle cx="387.5" cy="775" r="18.2" fill="url(#gO)"/><ellipse cx="379.9" cy="763.7" rx="4" ry="1.6" fill="#ffe2a0" opacity="0.8" transform="rotate(-30 379.9 763.7)"/><ellipse cx="378.4" cy="785" rx="2.9" ry="1.6" fill="#ffe2a0" opacity="0.8" transform="rotate(40 378.4 785)"/>
<circle cx="626.7" cy="775.9" r="12" fill="url(#gT)"/><ellipse cx="620.9" cy="781.9" rx="2.4" ry="1.2" fill="#c8fcff" opacity="0.75" transform="rotate(40 620.9 781.9)"/>
<circle cx="744" cy="775" r="18.2" fill="url(#gO)"/><ellipse cx="736.4" cy="763.7" rx="4" ry="1.6" fill="#ffe2a0" opacity="0.8" transform="rotate(-30 736.4 763.7)"/><ellipse cx="734.9" cy="785" rx="2.9" ry="1.6" fill="#ffe2a0" opacity="0.8" transform="rotate(40 734.9 785)"/>
<circle cx="760.4" cy="772.8" r="18.2" fill="url(#gO)"/><ellipse cx="752.8" cy="761.5" rx="4" ry="1.6" fill="#ffe2a0" opacity="0.8" transform="rotate(-30 752.8 761.5)"/><ellipse cx="751.3" cy="782.8" rx="2.9" ry="1.6" fill="#ffe2a0" opacity="0.8" transform="rotate(40 751.3 782.8)"/>
<circle cx="67.8" cy="873.3" r="12" fill="url(#gT)"/><ellipse cx="62" cy="879.3" rx="2.4" ry="1.2" fill="#c8fcff" opacity="0.75" transform="rotate(40 62 879.3)"/>
<circle cx="133.7" cy="870.2" r="18.2" fill="url(#gO)"/><ellipse cx="126.1" cy="858.9" rx="4" ry="1.6" fill="#ffe2a0" opacity="0.8" transform="rotate(-30 126.1 858.9)"/><ellipse cx="124.6" cy="880.2" rx="2.9" ry="1.6" fill="#ffe2a0" opacity="0.8" transform="rotate(40 124.6 880.2)"/>
<circle cx="254.6" cy="870.2" r="18.2" fill="url(#gO)"/><ellipse cx="247" cy="858.9" rx="4" ry="1.6" fill="#ffe2a0" opacity="0.8" transform="rotate(-30 247 858.9)"/><ellipse cx="245.5" cy="880.2" rx="2.9" ry="1.6" fill="#ffe2a0" opacity="0.8" transform="rotate(40 245.5 880.2)"/>
<circle cx="441.5" cy="870.2" r="12" fill="url(#gT)"/><ellipse cx="435.7" cy="876.2" rx="2.4" ry="1.2" fill="#c8fcff" opacity="0.75" transform="rotate(40 435.7 876.2)"/>
<circle cx="508" cy="868" r="18.2" fill="url(#gO)"/><ellipse cx="500.4" cy="856.7" rx="4" ry="1.6" fill="#ffe2a0" opacity="0.8" transform="rotate(-30 500.4 856.7)"/><ellipse cx="498.9" cy="878" rx="2.9" ry="1.6" fill="#ffe2a0" opacity="0.8" transform="rotate(40 498.9 878)"/>
<circle cx="628" cy="867" r="18.2" fill="url(#gO)"/><ellipse cx="620.4" cy="855.7" rx="4" ry="1.6" fill="#ffe2a0" opacity="0.8" transform="rotate(-30 620.4 855.7)"/><ellipse cx="618.9" cy="877" rx="2.9" ry="1.6" fill="#ffe2a0" opacity="0.8" transform="rotate(40 618.9 877)"/>
<circle cx="815" cy="866.7" r="12" fill="url(#gT)"/><ellipse cx="809.2" cy="872.7" rx="2.4" ry="1.2" fill="#c8fcff" opacity="0.75" transform="rotate(40 809.2 872.7)"/>
<circle cx="256" cy="963.2" r="12" fill="url(#gT)"/><ellipse cx="250.2" cy="969.2" rx="2.4" ry="1.2" fill="#c8fcff" opacity="0.75" transform="rotate(40 250.2 969.2)"/>
<circle cx="373.3" cy="963.2" r="18.2" fill="url(#gO)"/><ellipse cx="365.7" cy="951.9" rx="4" ry="1.6" fill="#ffe2a0" opacity="0.8" transform="rotate(-30 365.7 951.9)"/><ellipse cx="364.2" cy="973.2" rx="2.9" ry="1.6" fill="#ffe2a0" opacity="0.8" transform="rotate(40 364.2 973.2)"/>
<circle cx="388.8" cy="960" r="18.2" fill="url(#gO)"/><ellipse cx="381.2" cy="948.7" rx="4" ry="1.6" fill="#ffe2a0" opacity="0.8" transform="rotate(-30 381.2 948.7)"/><ellipse cx="379.7" cy="970" rx="2.9" ry="1.6" fill="#ffe2a0" opacity="0.8" transform="rotate(40 379.7 970)"/>
<circle cx="628.9" cy="960" r="12" fill="url(#gT)"/><ellipse cx="623.1" cy="966" rx="2.4" ry="1.2" fill="#c8fcff" opacity="0.75" transform="rotate(40 623.1 966)"/>
<circle cx="746.2" cy="958.8" r="18.2" fill="url(#gO)"/><ellipse cx="738.6" cy="947.5" rx="4" ry="1.6" fill="#ffe2a0" opacity="0.8" transform="rotate(-30 738.6 947.5)"/><ellipse cx="737.1" cy="968.8" rx="2.9" ry="1.6" fill="#ffe2a0" opacity="0.8" transform="rotate(40 737.1 968.8)"/>
<circle cx="761.7" cy="956.6" r="18.2" fill="url(#gO)"/><ellipse cx="754.1" cy="945.3" rx="4" ry="1.6" fill="#ffe2a0" opacity="0.8" transform="rotate(-30 754.1 945.3)"/><ellipse cx="752.6" cy="966.6" rx="2.9" ry="1.6" fill="#ffe2a0" opacity="0.8" transform="rotate(40 752.6 966.6)"/>
<circle cx="70" cy="1057.5" r="12" fill="url(#gT)"/><ellipse cx="64.2" cy="1063.5" rx="2.4" ry="1.2" fill="#c8fcff" opacity="0.75" transform="rotate(40 64.2 1063.5)"/>
<circle cx="136.4" cy="1054" r="18.2" fill="url(#gO)"/><ellipse cx="128.8" cy="1042.7" rx="4" ry="1.6" fill="#ffe2a0" opacity="0.8" transform="rotate(-30 128.8 1042.7)"/><ellipse cx="127.3" cy="1064" rx="2.9" ry="1.6" fill="#ffe2a0" opacity="0.8" transform="rotate(40 127.3 1064)"/>
<circle cx="256.9" cy="1053" r="18.2" fill="url(#gO)"/><ellipse cx="249.3" cy="1041.7" rx="4" ry="1.6" fill="#ffe2a0" opacity="0.8" transform="rotate(-30 249.3 1041.7)"/><ellipse cx="247.8" cy="1063" rx="2.9" ry="1.6" fill="#ffe2a0" opacity="0.8" transform="rotate(40 247.8 1063)"/>
<circle cx="443.8" cy="1053" r="12" fill="url(#gT)"/><ellipse cx="438" cy="1059" rx="2.4" ry="1.2" fill="#c8fcff" opacity="0.75" transform="rotate(40 438 1059)"/>
<circle cx="510.2" cy="1051.8" r="18.2" fill="url(#gO)"/><ellipse cx="502.6" cy="1040.5" rx="4" ry="1.6" fill="#ffe2a0" opacity="0.8" transform="rotate(-30 502.6 1040.5)"/><ellipse cx="501.1" cy="1061.8" rx="2.9" ry="1.6" fill="#ffe2a0" opacity="0.8" transform="rotate(40 501.1 1061.8)"/>
<circle cx="630.2" cy="1050.5" r="18.2" fill="url(#gO)"/><ellipse cx="622.6" cy="1039.2" rx="4" ry="1.6" fill="#ffe2a0" opacity="0.8" transform="rotate(-30 622.6 1039.2)"/><ellipse cx="621.1" cy="1060.5" rx="2.9" ry="1.6" fill="#ffe2a0" opacity="0.8" transform="rotate(40 621.1 1060.5)"/>
<circle cx="816.2" cy="1049.6" r="12" fill="url(#gT)"/><ellipse cx="810.4" cy="1055.6" rx="2.4" ry="1.2" fill="#c8fcff" opacity="0.75" transform="rotate(40 810.4 1055.6)"/>
<path d="M269,785 L318,785 L318,794 L346,780 L318,766 L318,775 L269,775Z" fill="#00aeef"/>
<path d="M533.7,689 L582,689 L582,698 L610,684 L582,670 L582,679 L533.7,679Z" fill="#00aeef"/>
<path d="M404.8,749 L419.9,728.5 L427.2,733.8 L432.5,703 L404.6,717.2 L411.9,722.6 L396.8,743Z" fill="#00aeef"/>
<path d="M645.7,781 L695,781 L695,790 L723,776 L695,762 L695,771 L645.7,771Z" fill="#00aeef"/>
<path d="M160.8,876 L210,876 L210,885 L238,871 L210,857 L210,866 L160.8,866Z" fill="#00aeef"/>
<path d="M531.4,876 L582,876 L582,885 L610,871 L582,857 L582,866 L531.4,866Z" fill="#00aeef"/>
<path d="M280,966 L331,966 L331,975 L359,961 L331,947 L331,956 L280,956Z" fill="#00aeef"/>
<path d="M654.6,964.7 L704.5,964.7 L704.5,973.7 L732.5,959.7 L704.5,945.7 L704.5,954.7 L654.6,954.7Z" fill="#00aeef"/>
<path d="M396.7,990.5 L412.3,1012.5 L404.9,1017.7 L432.5,1032.5 L427.8,1001.6 L420.4,1006.7 L404.9,984.7Z" fill="#00aeef"/>
<path d="M533.7,1060 L583,1060 L583,1069 L611,1055 L583,1041 L583,1050 L533.7,1050Z" fill="#00aeef"/>
<path d="M84,713Q120,774 214,778.5" fill="none" stroke="#ff0000" stroke-width="9" stroke-dasharray="9.5 8.5"/><path d="M201.1,760.4L230.5,779.3L199.4,795.3" fill="none" stroke="#ff0000" stroke-width="9.5" stroke-linecap="round" stroke-linejoin="miter" stroke-miterlimit="10"/>
<path d="M265.6,759.8Q304,700 395,695.5" fill="none" stroke="#ff0000" stroke-width="9" stroke-dasharray="9.5 8.5"/><path d="M379.4,678.5L410.5,694.5L381.1,713.5" fill="none" stroke="#ff0000" stroke-width="9.5" stroke-linecap="round" stroke-linejoin="miter" stroke-miterlimit="10"/>
<path d="M456.2,710.8Q492,772 584,775.5" fill="none" stroke="#ff0000" stroke-width="9" stroke-dasharray="9.5 8.5"/><path d="M570.4,756.9L600,775.5L569,791.8" fill="none" stroke="#ff0000" stroke-width="9.5" stroke-linecap="round" stroke-linejoin="miter" stroke-miterlimit="10"/>
<path d="M640,795Q676,857 770,861" fill="none" stroke="#ff0000" stroke-width="9" stroke-dasharray="9.5 8.5"/><path d="M756.5,842.7L786,861.5L755,877.7" fill="none" stroke="#ff0000" stroke-width="9.5" stroke-linecap="round" stroke-linejoin="miter" stroke-miterlimit="10"/>
<path d="M269.3,938.9Q308,878 400,874" fill="none" stroke="#ff0000" stroke-width="9" stroke-dasharray="9.5 8.5"/><path d="M385,857.6L416,873.8L386.5,892.6" fill="none" stroke="#ff0000" stroke-width="9.5" stroke-linecap="round" stroke-linejoin="miter" stroke-miterlimit="10"/>
<path d="M84.1,1025.2Q123,965 212,962" fill="none" stroke="#ff0000" stroke-width="9" stroke-dasharray="9.5 8.5"/><path d="M197.1,945.3L228,961.8L198.3,980.3" fill="none" stroke="#ff0000" stroke-width="9.5" stroke-linecap="round" stroke-linejoin="miter" stroke-miterlimit="10"/>
<path d="M644.4,976.5Q681,1038 774,1042.5" fill="none" stroke="#ff0000" stroke-width="9" stroke-dasharray="9.5 8.5"/><path d="M760.6,1024.1L790,1043L758.9,1059" fill="none" stroke="#ff0000" stroke-width="9.5" stroke-linecap="round" stroke-linejoin="miter" stroke-miterlimit="10"/>
<path d="M455,888C478,905 484,960 471,1003" fill="none" stroke="#ff0000" stroke-width="9" stroke-dasharray="9.5 8.5"/>
<path d="M487.1,994.1L461.5,1018L453.6,983.9" fill="none" stroke="#ff0000" stroke-width="9.5" stroke-linecap="round" stroke-linejoin="miter" stroke-miterlimit="10"/>
<path d="M1187.4,683.8L1188.6,725.1" stroke="#f0b868" stroke-width="1.8"/>
<path d="M1207.5,649.6L1211,662" stroke="#74b8c6" stroke-width="1.8"/><path d="M1211,662L1214.6,674.4" stroke="#f0b868" stroke-width="1.8"/>
<path d="M1232.3,738.1L1198,760.5" stroke="#f0b868" stroke-width="1.8"/><path d="M1198,760.5L1163.8,783" stroke="#f0b868" stroke-width="1.8"/>
<path d="M1232.3,738.1L1261,772.4" stroke="#f0b868" stroke-width="1.8"/><path d="M1261,772.4L1289.7,806.6" stroke="#f0b868" stroke-width="1.8"/>
<path d="M1163.8,783L1140.5,790.5" stroke="#f0b868" stroke-width="1.8"/><path d="M1140.5,790.5L1117.3,797.9" stroke="#f0b868" stroke-width="1.8"/>
<path d="M1117.3,797.9L1089.4,792.4" stroke="#f0b868" stroke-width="1.8"/>
<path d="M1163.8,783L1100,784" stroke="#f0b868" stroke-width="1.8"/>
<path d="M1160.3,891.9L1150.8,843.2" stroke="#f0b868" stroke-width="1.8"/>
<path d="M1300.8,770L1326.8,776" stroke="#f0b868" stroke-width="1.8"/>
<path d="M1289.7,806.6L1257.8,829" stroke="#f0b868" stroke-width="1.8"/><path d="M1257.8,829L1225.9,851.5" stroke="#74b8c6" stroke-width="1.8"/>
<path d="M1289.7,806.6L1331.2,825.5" stroke="#f0b868" stroke-width="1.8"/><path d="M1331.2,825.5L1372.8,844.4" stroke="#74b8c6" stroke-width="1.8"/>
<path d="M1289.7,806.6L1291.1,836.3" stroke="#f0b868" stroke-width="1.8"/><path d="M1291.1,836.3L1292.5,866" stroke="#f0b868" stroke-width="1.8"/>
<path d="M1289.7,806.6L1250,878.6" stroke="#f0b868" stroke-width="1.8"/>
<path d="M1225.9,851.5L1193.1,871.7" stroke="#74b8c6" stroke-width="1.8"/><path d="M1193.1,871.7L1160.3,891.9" stroke="#f0b868" stroke-width="1.8"/>
<path d="M1234.7,862.1L1265.3,891.5" stroke="#74b8c6" stroke-width="1.8"/><path d="M1265.3,891.5L1296,920.9" stroke="#f0b868" stroke-width="1.8"/>
<path d="M1378,695.6L1342,724" stroke="#f0b868" stroke-width="1.8"/>
<path d="M1383.9,729.9L1378.3,787.1" stroke="#f0b868" stroke-width="1.8"/><path d="M1378.3,787.1L1372.8,844.4" stroke="#74b8c6" stroke-width="1.8"/>
<path d="M1378,695.6L1426.8,735.8" stroke="#f0b868" stroke-width="1.8"/><path d="M1426.8,735.8L1475.5,775.9" stroke="#f0b868" stroke-width="1.8"/>
<path d="M1418.8,798.3L1408.2,827.1" stroke="#f0b868" stroke-width="1.8"/><path d="M1408.2,827.1L1397.6,856" stroke="#74b8c6" stroke-width="1.8"/>
<path d="M1475.5,775.9L1529,772.3" stroke="#f0b868" stroke-width="1.8"/><path d="M1529,772.3L1582.6,768.8" stroke="#74b8c6" stroke-width="1.8"/>
<path d="M1488,812.5L1442.8,834.2" stroke="#f0b868" stroke-width="1.8"/><path d="M1442.8,834.2L1397.6,856" stroke="#74b8c6" stroke-width="1.8"/>
<path d="M1488,812.5L1522.9,776.5" stroke="#f0b868" stroke-width="1.8"/><path d="M1522.9,776.5L1557.8,740.5" stroke="#74b8c6" stroke-width="1.8"/>
<path d="M1488,812.5L1430.4,828.5" stroke="#f0b868" stroke-width="1.8"/><path d="M1430.4,828.5L1372.8,844.4" stroke="#74b8c6" stroke-width="1.8"/>
<path d="M1437.7,637.8L1466.7,643.1" stroke="#74b8c6" stroke-width="1.8"/><path d="M1466.7,643.1L1495.6,648.4" stroke="#f0b868" stroke-width="1.8"/>
<path d="M1523.9,675.6L1540.8,708" stroke="#f0b868" stroke-width="1.8"/><path d="M1540.8,708L1557.8,740.5" stroke="#74b8c6" stroke-width="1.8"/>
<path d="M1372.8,844.4L1385.2,850.2" stroke="#74b8c6" stroke-width="1.8"/><path d="M1385.2,850.2L1397.6,856" stroke="#74b8c6" stroke-width="1.8"/>
<path d="M1397.6,856L1427,862" stroke="#74b8c6" stroke-width="1.8"/>
<path d="M1495.6,648.4L1509.8,662" stroke="#f0b868" stroke-width="1.8"/><path d="M1509.8,662L1523.9,675.6" stroke="#f0b868" stroke-width="1.8"/>
<path d="M1187.4,683.8L1209.8,711" stroke="#f0b868" stroke-width="1.8"/><path d="M1209.8,711L1232.3,738.1" stroke="#f0b868" stroke-width="1.8"/>
<path d="M1629.8,668.5L1613.3,634.2" stroke="#f0b868" stroke-width="1.8"/>
<path d="M1580.9,705.1L1610.7,700.4" stroke="#f0b868" stroke-width="1.8"/><path d="M1610.7,700.4L1640.4,695.6" stroke="#f0b868" stroke-width="1.8"/>
<path d="M1580.9,705.1L1569.3,722.8" stroke="#f0b868" stroke-width="1.8"/><path d="M1569.3,722.8L1557.8,740.5" stroke="#74b8c6" stroke-width="1.8"/>
<path d="M1557.8,740.5L1570.2,754.6" stroke="#74b8c6" stroke-width="1.8"/><path d="M1570.2,754.6L1582.6,768.8" stroke="#74b8c6" stroke-width="1.8"/>
<path d="M1557.8,740.5L1599.1,718" stroke="#74b8c6" stroke-width="1.8"/><path d="M1599.1,718L1640.4,695.6" stroke="#f0b868" stroke-width="1.8"/>
<path d="M1580.9,705.1L1632.5,719.9" stroke="#f0b868" stroke-width="1.8"/><path d="M1632.5,719.9L1684.1,734.6" stroke="#74b8c6" stroke-width="1.8"/>
<path d="M1580.9,705.1L1617.5,731" stroke="#f0b868" stroke-width="1.8"/><path d="M1617.5,731L1654.1,757" stroke="#f0b868" stroke-width="1.8"/>
<path d="M1582.6,768.8L1616.2,793.6" stroke="#74b8c6" stroke-width="1.8"/><path d="M1616.2,793.6L1649.9,818.4" stroke="#f0b868" stroke-width="1.8"/>
<path d="M1582.6,768.8L1606.2,718.6" stroke="#74b8c6" stroke-width="1.8"/><path d="M1606.2,718.6L1629.8,668.5" stroke="#f0b868" stroke-width="1.8"/>
<path d="M1684.1,734.6L1701.8,771.2" stroke="#74b8c6" stroke-width="1.8"/>
<path d="M1684.1,734.6L1662.2,715.1" stroke="#74b8c6" stroke-width="1.8"/><path d="M1662.2,715.1L1640.4,695.6" stroke="#f0b868" stroke-width="1.8"/>
<path d="M1654.1,757L1652,787.7" stroke="#f0b868" stroke-width="1.8"/><path d="M1652,787.7L1649.9,818.4" stroke="#f0b868" stroke-width="1.8"/>
<path d="M1649.9,818.4L1654,846.5" stroke="#f0b868" stroke-width="1.8"/><path d="M1654,846.5L1658.1,874.5" stroke="#74b8c6" stroke-width="1.8"/>
<path d="M1649.9,818.4L1635.7,841.2" stroke="#f0b868" stroke-width="1.8"/><path d="M1635.7,841.2L1621.5,864" stroke="#f0b868" stroke-width="1.8"/>
<path d="M1769.8,696.8L1765.5,739" stroke="#f0b868" stroke-width="1.8"/>
<path d="M1843.9,817.2L1873,815.6" stroke="#f0b868" stroke-width="1.8"/>
<path d="M1790.3,821.9L1769,850" stroke="#f0b868" stroke-width="1.8"/><path d="M1769,850L1747.8,878" stroke="#f0b868" stroke-width="1.8"/>
<path d="M1747.8,878L1709,855" stroke="#f0b868" stroke-width="1.8"/>
<path d="M1658.1,874.5L1702.9,876.2" stroke="#74b8c6" stroke-width="1.8"/><path d="M1702.9,876.2L1747.8,878" stroke="#f0b868" stroke-width="1.8"/>
<path d="M1786.8,805.4L1802.4,810.7" stroke="#74b8c6" stroke-width="1.8"/><path d="M1802.4,810.7L1818,816" stroke="#74b8c6" stroke-width="1.8"/>
<path d="M1818,816L1831,816.6" stroke="#74b8c6" stroke-width="1.8"/><path d="M1831,816.6L1843.9,817.2" stroke="#f0b868" stroke-width="1.8"/>
<path d="M1629.8,668.5L1635.1,682" stroke="#f0b868" stroke-width="1.8"/><path d="M1635.1,682L1640.4,695.6" stroke="#f0b868" stroke-width="1.8"/>
<path d="M1769.8,696.8L1784.2,704.5" stroke="#f0b868" stroke-width="1.8"/><path d="M1784.2,704.5L1798.6,712.1" stroke="#f0b868" stroke-width="1.8"/>
<path d="M1160.3,891.9L1197.5,878.3" stroke="#f0b868" stroke-width="1.8"/><path d="M1197.5,878.3L1234.7,864.7" stroke="#74b8c6" stroke-width="1.8"/>
<path d="M1160.3,891.9L1205.8,903.1" stroke="#f0b868" stroke-width="1.8"/><path d="M1205.8,903.1L1251.2,914.3" stroke="#74b8c6" stroke-width="1.8"/>
<path d="M1251.2,914.3L1271.8,890.1" stroke="#74b8c6" stroke-width="1.8"/><path d="M1271.8,890.1L1292.5,866" stroke="#f0b868" stroke-width="1.8"/>
<path d="M1251.2,914.3L1240.6,980.4" stroke="#74b8c6" stroke-width="1.8"/>
<path d="M1251.2,914.3L1273.6,917.6" stroke="#74b8c6" stroke-width="1.8"/><path d="M1273.6,917.6L1296,920.9" stroke="#f0b868" stroke-width="1.8"/>
<path d="M1218.1,932L1234.7,923.1" stroke="#f0b868" stroke-width="1.8"/><path d="M1234.7,923.1L1251.2,914.3" stroke="#74b8c6" stroke-width="1.8"/>
<path d="M1218.1,932L1226.4,898.4" stroke="#f0b868" stroke-width="1.8"/><path d="M1226.4,898.4L1234.7,864.7" stroke="#74b8c6" stroke-width="1.8"/>
<path d="M1171.6,947.4L1194.8,939.7" stroke="#f0b868" stroke-width="1.8"/><path d="M1194.8,939.7L1218.1,932" stroke="#f0b868" stroke-width="1.8"/>
<path d="M1119.7,935.1L1145.7,941.2" stroke="#f0b868" stroke-width="1.8"/><path d="M1145.7,941.2L1171.6,947.4" stroke="#f0b868" stroke-width="1.8"/>
<path d="M1119.7,935.1L1112.8,953.7" stroke="#f0b868" stroke-width="1.8"/><path d="M1112.8,953.7L1106,972.2" stroke="#74b8c6" stroke-width="1.8"/>
<path d="M1106,972.2L1138.8,959.8" stroke="#74b8c6" stroke-width="1.8"/><path d="M1138.8,959.8L1171.6,947.4" stroke="#f0b868" stroke-width="1.8"/>
<path d="M1119.7,935.1L1140,975.5" stroke="#f0b868" stroke-width="1.8"/><path d="M1140,975.5L1160.3,1015.8" stroke="#74b8c6" stroke-width="1.8"/>
<path d="M1171.6,947.4L1165.9,981.6" stroke="#f0b868" stroke-width="1.8"/><path d="M1165.9,981.6L1160.3,1015.8" stroke="#74b8c6" stroke-width="1.8"/>
<path d="M1296,920.9L1284.8,971.9" stroke="#f0b868" stroke-width="1.8"/><path d="M1284.8,971.9L1273.6,1022.9" stroke="#f0b868" stroke-width="1.8"/>
<path d="M1273.6,1022.9L1304.3,998.1" stroke="#f0b868" stroke-width="1.8"/><path d="M1304.3,998.1L1335,973.3" stroke="#74b8c6" stroke-width="1.8"/>
<path d="M1273.6,1022.9L1320.8,1044.8" stroke="#f0b868" stroke-width="1.8"/><path d="M1320.8,1044.8L1368.1,1066.6" stroke="#74b8c6" stroke-width="1.8"/>
<path d="M1318,1085.5L1343,1076" stroke="#f0b868" stroke-width="1.8"/><path d="M1343,1076L1368.1,1066.6" stroke="#74b8c6" stroke-width="1.8"/>
<path d="M1318,1085.5L1370,1085.5" stroke="#f0b868" stroke-width="1.8"/><path d="M1370,1085.5L1421.9,1085.5" stroke="#74b8c6" stroke-width="1.8"/>
<path d="M1421.9,1085.5L1475,1103" stroke="#74b8c6" stroke-width="1.8"/>
<path d="M1421.9,1085.5L1401,1046.5" stroke="#74b8c6" stroke-width="1.8"/>
<path d="M1421.9,1085.5L1426.2,1040" stroke="#74b8c6" stroke-width="1.8"/><path d="M1426.2,1040L1430.6,994.6" stroke="#f0b868" stroke-width="1.8"/>
<path d="M1368.1,1066.6L1399.3,1030.6" stroke="#74b8c6" stroke-width="1.8"/><path d="M1399.3,1030.6L1430.6,994.6" stroke="#f0b868" stroke-width="1.8"/>
<path d="M1335,973.3L1354.5,968.6" stroke="#74b8c6" stroke-width="1.8"/><path d="M1354.5,968.6L1374,963.9" stroke="#f0b868" stroke-width="1.8"/>
<path d="M1335,973.3L1382.2,976.8" stroke="#74b8c6" stroke-width="1.8"/><path d="M1382.2,976.8L1429.5,980.4" stroke="#f0b868" stroke-width="1.8"/>
<path d="M1325.6,891.9L1359.2,891.3" stroke="#f0b868" stroke-width="1.8"/><path d="M1359.2,891.3L1392.9,890.7" stroke="#74b8c6" stroke-width="1.8"/>
<path d="M1325.6,891.9L1377.5,936.1" stroke="#f0b868" stroke-width="1.8"/><path d="M1377.5,936.1L1429.5,980.4" stroke="#f0b868" stroke-width="1.8"/>
<path d="M1392.9,890.7L1427,863.5" stroke="#74b8c6" stroke-width="1.8"/>
<path d="M1392.9,890.7L1383.5,927.3" stroke="#74b8c6" stroke-width="1.8"/><path d="M1383.5,927.3L1374,963.9" stroke="#f0b868" stroke-width="1.8"/>
<path d="M1392.9,890.7L1411.2,935.5" stroke="#74b8c6" stroke-width="1.8"/><path d="M1411.2,935.5L1429.5,980.4" stroke="#f0b868" stroke-width="1.8"/>
<path d="M1501.5,923.8L1465,926" stroke="#74b8c6" stroke-width="1.8"/>
<path d="M1501.5,923.8L1495.6,967.5" stroke="#74b8c6" stroke-width="1.8"/><path d="M1495.6,967.5L1489.7,1011.1" stroke="#f0b868" stroke-width="1.8"/>
<path d="M1443.6,982.8L1466.7,997" stroke="#f0b868" stroke-width="1.8"/><path d="M1466.7,997L1489.7,1011.1" stroke="#f0b868" stroke-width="1.8"/>
<path d="M1372.8,844.4L1373.4,904.1" stroke="#74b8c6" stroke-width="1.8"/><path d="M1373.4,904.1L1374,963.9" stroke="#f0b868" stroke-width="1.8"/>
<path d="M1140.2,908.4L1150.2,900.1" stroke="#f0b868" stroke-width="1.8"/><path d="M1150.2,900.1L1160.3,891.9" stroke="#f0b868" stroke-width="1.8"/>
<path d="M1296,920.9L1310.8,906.4" stroke="#f0b868" stroke-width="1.8"/><path d="M1310.8,906.4L1325.6,891.9" stroke="#f0b868" stroke-width="1.8"/>
<path d="M1621.5,864L1639.8,869.6" stroke="#f0b868" stroke-width="1.8"/><path d="M1639.8,869.6L1658.1,875.3" stroke="#74b8c6" stroke-width="1.8"/>
<path d="M1621.5,864L1633.2,874.4" stroke="#f0b868" stroke-width="1.8"/><path d="M1633.2,874.4L1645,884.8" stroke="#74b8c6" stroke-width="1.8"/>
<path d="M1658.1,875.3L1649.9,897.8" stroke="#74b8c6" stroke-width="1.8"/>
<path d="M1747.8,880L1714,860" stroke="#f0b868" stroke-width="1.8"/>
<path d="M1747.8,880L1747.8,917.8" stroke="#f0b868" stroke-width="1.8"/><path d="M1747.8,917.8L1747.8,955.6" stroke="#f0b868" stroke-width="1.8"/>
<path d="M1747.8,880L1720.1,938.5" stroke="#f0b868" stroke-width="1.8"/><path d="M1720.1,938.5L1692.4,997" stroke="#74b8c6" stroke-width="1.8"/>
<path d="M1754.9,894.2L1795.7,934.4" stroke="#f0b868" stroke-width="1.8"/><path d="M1795.7,934.4L1836.4,974.5" stroke="#f0b868" stroke-width="1.8"/>
<path d="M1747.8,955.6L1797.4,936.7" stroke="#f0b868" stroke-width="1.8"/><path d="M1797.4,936.7L1847,917.8" stroke="#74b8c6" stroke-width="1.8"/>
<path d="M1747.8,955.6L1708.9,932" stroke="#f0b868" stroke-width="1.8"/>
<path d="M1747.8,955.6L1795,993.4" stroke="#f0b868" stroke-width="1.8"/>
<path d="M1747.8,955.6L1738.4,975.7" stroke="#f0b868" stroke-width="1.8"/><path d="M1738.4,975.7L1729,995.8" stroke="#f0b868" stroke-width="1.8"/>
<path d="M1847,917.8L1873,919" stroke="#74b8c6" stroke-width="1.8"/>
<path d="M1847,917.8L1841.7,946.1" stroke="#74b8c6" stroke-width="1.8"/><path d="M1841.7,946.1L1836.4,974.5" stroke="#f0b868" stroke-width="1.8"/>
<path d="M1836.4,974.5L1873,976" stroke="#f0b868" stroke-width="1.8"/>
<path d="M1607.4,978L1649.9,987.5" stroke="#f0b868" stroke-width="1.8"/><path d="M1649.9,987.5L1692.4,997" stroke="#74b8c6" stroke-width="1.8"/>
<path d="M1580.9,1004L1588.5,1034.1" stroke="#f0b868" stroke-width="1.8"/><path d="M1588.5,1034.1L1596,1064.2" stroke="#74b8c6" stroke-width="1.8"/>
<path d="M1580.9,1004L1553,1061.9" stroke="#f0b868" stroke-width="1.8"/>
<path d="M1613.3,997L1604.7,1030.6" stroke="#f0b868" stroke-width="1.8"/><path d="M1604.7,1030.6L1596,1064.2" stroke="#74b8c6" stroke-width="1.8"/>
<path d="M1729,995.8L1762.4,1031.8" stroke="#f0b868" stroke-width="1.8"/><path d="M1762.4,1031.8L1795.8,1067.8" stroke="#74b8c6" stroke-width="1.8"/>
<path d="M1711.2,1076L1753.5,1071.9" stroke="#f0b868" stroke-width="1.8"/><path d="M1753.5,1071.9L1795.8,1067.8" stroke="#74b8c6" stroke-width="1.8"/>
<path d="M1607.4,978L1610.9,969.8" stroke="#f0b868" stroke-width="1.8"/><path d="M1610.9,969.8L1614.4,961.5" stroke="#f0b868" stroke-width="1.8"/>
<path d="M1596,1064.2L1570,1075" stroke="#74b8c6" stroke-width="1.8"/>
<circle cx="1214.6" cy="674.4" r="17.2" fill="url(#gOl)"/><ellipse cx="1207.4" cy="663.7" rx="3.8" ry="1.5" fill="#ffe2a0" opacity="0.8" transform="rotate(-30 1207.4 663.7)"/><ellipse cx="1206" cy="683.9" rx="2.8" ry="1.5" fill="#ffe2a0" opacity="0.8" transform="rotate(40 1206 683.9)"/>
<circle cx="1378" cy="695.6" r="17.2" fill="url(#gOl)"/><ellipse cx="1370.8" cy="684.9" rx="3.8" ry="1.5" fill="#ffe2a0" opacity="0.8" transform="rotate(-30 1370.8 684.9)"/><ellipse cx="1369.4" cy="705.1" rx="2.8" ry="1.5" fill="#ffe2a0" opacity="0.8" transform="rotate(40 1369.4 705.1)"/>
<circle cx="1475.5" cy="775.9" r="17.2" fill="url(#gOl)"/><ellipse cx="1468.3" cy="765.2" rx="3.8" ry="1.5" fill="#ffe2a0" opacity="0.8" transform="rotate(-30 1468.3 765.2)"/><ellipse cx="1466.9" cy="785.4" rx="2.8" ry="1.5" fill="#ffe2a0" opacity="0.8" transform="rotate(40 1466.9 785.4)"/>
<circle cx="1292.5" cy="866" r="17.2" fill="url(#gOl)"/><ellipse cx="1285.3" cy="855.3" rx="3.8" ry="1.5" fill="#ffe2a0" opacity="0.8" transform="rotate(-30 1285.3 855.3)"/><ellipse cx="1283.9" cy="875.5" rx="2.8" ry="1.5" fill="#ffe2a0" opacity="0.8" transform="rotate(40 1283.9 875.5)"/>
<circle cx="1629.8" cy="668.5" r="17.2" fill="url(#gOl)"/><ellipse cx="1622.6" cy="657.8" rx="3.8" ry="1.5" fill="#ffe2a0" opacity="0.8" transform="rotate(-30 1622.6 657.8)"/><ellipse cx="1621.2" cy="678" rx="2.8" ry="1.5" fill="#ffe2a0" opacity="0.8" transform="rotate(40 1621.2 678)"/>
<circle cx="1769.8" cy="696.8" r="17.2" fill="url(#gOl)"/><ellipse cx="1762.6" cy="686.1" rx="3.8" ry="1.5" fill="#ffe2a0" opacity="0.8" transform="rotate(-30 1762.6 686.1)"/><ellipse cx="1761.2" cy="706.3" rx="2.8" ry="1.5" fill="#ffe2a0" opacity="0.8" transform="rotate(40 1761.2 706.3)"/>
<circle cx="1754.9" cy="894.2" r="17.2" fill="url(#gOl)"/><ellipse cx="1747.7" cy="883.5" rx="3.8" ry="1.5" fill="#ffe2a0" opacity="0.8" transform="rotate(-30 1747.7 883.5)"/><ellipse cx="1746.3" cy="903.7" rx="2.8" ry="1.5" fill="#ffe2a0" opacity="0.8" transform="rotate(40 1746.3 903.7)"/>
<circle cx="1140.2" cy="908.4" r="17.2" fill="url(#gOl)"/><ellipse cx="1133" cy="897.7" rx="3.8" ry="1.5" fill="#ffe2a0" opacity="0.8" transform="rotate(-30 1133 897.7)"/><ellipse cx="1131.6" cy="917.9" rx="2.8" ry="1.5" fill="#ffe2a0" opacity="0.8" transform="rotate(40 1131.6 917.9)"/>
<circle cx="1374" cy="963.9" r="17.2" fill="url(#gOl)"/><ellipse cx="1366.8" cy="953.2" rx="3.8" ry="1.5" fill="#ffe2a0" opacity="0.8" transform="rotate(-30 1366.8 953.2)"/><ellipse cx="1365.4" cy="973.4" rx="2.8" ry="1.5" fill="#ffe2a0" opacity="0.8" transform="rotate(40 1365.4 973.4)"/>
<circle cx="1443.6" cy="982.8" r="17.2" fill="url(#gOl)"/><ellipse cx="1436.4" cy="972.1" rx="3.8" ry="1.5" fill="#ffe2a0" opacity="0.8" transform="rotate(-30 1436.4 972.1)"/><ellipse cx="1435" cy="992.3" rx="2.8" ry="1.5" fill="#ffe2a0" opacity="0.8" transform="rotate(40 1435 992.3)"/>
<circle cx="1613.3" cy="997" r="17.2" fill="url(#gOl)"/><ellipse cx="1606.1" cy="986.3" rx="3.8" ry="1.5" fill="#ffe2a0" opacity="0.8" transform="rotate(-30 1606.1 986.3)"/><ellipse cx="1604.7" cy="1006.5" rx="2.8" ry="1.5" fill="#ffe2a0" opacity="0.8" transform="rotate(40 1604.7 1006.5)"/>
<circle cx="1207.5" cy="649.6" r="11.1" fill="url(#gT)"/><ellipse cx="1202.2" cy="655.1" rx="2.2" ry="1.1" fill="#c8fcff" opacity="0.75" transform="rotate(40 1202.2 655.1)"/>
<circle cx="1437.7" cy="637.8" r="11.1" fill="url(#gT)"/><ellipse cx="1432.4" cy="643.3" rx="2.2" ry="1.1" fill="#c8fcff" opacity="0.75" transform="rotate(40 1432.4 643.3)"/>
<circle cx="1372.8" cy="844.4" r="11.1" fill="url(#gT)"/><ellipse cx="1367.5" cy="849.9" rx="2.2" ry="1.1" fill="#c8fcff" opacity="0.75" transform="rotate(40 1367.5 849.9)"/>
<circle cx="1397.6" cy="856" r="11.1" fill="url(#gT)"/><ellipse cx="1392.3" cy="861.5" rx="2.2" ry="1.1" fill="#c8fcff" opacity="0.75" transform="rotate(40 1392.3 861.5)"/>
<circle cx="1225.9" cy="851.5" r="11.1" fill="url(#gT)"/><ellipse cx="1220.6" cy="857" rx="2.2" ry="1.1" fill="#c8fcff" opacity="0.75" transform="rotate(40 1220.6 857)"/>
<circle cx="1234.7" cy="862.1" r="11.1" fill="url(#gT)"/><ellipse cx="1229.4" cy="867.6" rx="2.2" ry="1.1" fill="#c8fcff" opacity="0.75" transform="rotate(40 1229.4 867.6)"/>
<circle cx="1557.8" cy="740.5" r="11.1" fill="url(#gT)"/><ellipse cx="1552.5" cy="746" rx="2.2" ry="1.1" fill="#c8fcff" opacity="0.75" transform="rotate(40 1552.5 746)"/>
<circle cx="1582.6" cy="768.8" r="11.1" fill="url(#gT)"/><ellipse cx="1577.3" cy="774.3" rx="2.2" ry="1.1" fill="#c8fcff" opacity="0.75" transform="rotate(40 1577.3 774.3)"/>
<circle cx="1684.1" cy="734.6" r="11.1" fill="url(#gT)"/><ellipse cx="1678.8" cy="740.1" rx="2.2" ry="1.1" fill="#c8fcff" opacity="0.75" transform="rotate(40 1678.8 740.1)"/>
<circle cx="1786.8" cy="805.4" r="11.1" fill="url(#gT)"/><ellipse cx="1781.5" cy="810.9" rx="2.2" ry="1.1" fill="#c8fcff" opacity="0.75" transform="rotate(40 1781.5 810.9)"/>
<circle cx="1818" cy="816" r="11.1" fill="url(#gT)"/><ellipse cx="1812.7" cy="821.5" rx="2.2" ry="1.1" fill="#c8fcff" opacity="0.75" transform="rotate(40 1812.7 821.5)"/>
<circle cx="1658.1" cy="874.5" r="11.1" fill="url(#gT)"/><ellipse cx="1652.8" cy="880" rx="2.2" ry="1.1" fill="#c8fcff" opacity="0.75" transform="rotate(40 1652.8 880)"/>
<circle cx="1251.2" cy="914.3" r="11.1" fill="url(#gT)"/><ellipse cx="1245.9" cy="919.8" rx="2.2" ry="1.1" fill="#c8fcff" opacity="0.75" transform="rotate(40 1245.9 919.8)"/>
<circle cx="1392.9" cy="890.7" r="11.1" fill="url(#gT)"/><ellipse cx="1387.6" cy="896.2" rx="2.2" ry="1.1" fill="#c8fcff" opacity="0.75" transform="rotate(40 1387.6 896.2)"/>
<circle cx="1106" cy="972.2" r="11.1" fill="url(#gT)"/><ellipse cx="1100.7" cy="977.8" rx="2.2" ry="1.1" fill="#c8fcff" opacity="0.75" transform="rotate(40 1100.7 977.8)"/>
<circle cx="1160.3" cy="1015.8" r="11.1" fill="url(#gT)"/><ellipse cx="1155" cy="1021.3" rx="2.2" ry="1.1" fill="#c8fcff" opacity="0.75" transform="rotate(40 1155 1021.3)"/>
<circle cx="1335" cy="973.3" r="11.1" fill="url(#gT)"/><ellipse cx="1329.7" cy="978.8" rx="2.2" ry="1.1" fill="#c8fcff" opacity="0.75" transform="rotate(40 1329.7 978.8)"/>
<circle cx="1501.5" cy="923.8" r="11.1" fill="url(#gT)"/><ellipse cx="1496.2" cy="929.3" rx="2.2" ry="1.1" fill="#c8fcff" opacity="0.75" transform="rotate(40 1496.2 929.3)"/>
<circle cx="1368.1" cy="1066.6" r="11.1" fill="url(#gT)"/><ellipse cx="1362.8" cy="1072.1" rx="2.2" ry="1.1" fill="#c8fcff" opacity="0.75" transform="rotate(40 1362.8 1072.1)"/>
<circle cx="1421.9" cy="1085.5" r="11.1" fill="url(#gT)"/><ellipse cx="1416.6" cy="1091" rx="2.2" ry="1.1" fill="#c8fcff" opacity="0.75" transform="rotate(40 1416.6 1091)"/>
<circle cx="1847" cy="917.8" r="11.1" fill="url(#gT)"/><ellipse cx="1841.7" cy="923.3" rx="2.2" ry="1.1" fill="#c8fcff" opacity="0.75" transform="rotate(40 1841.7 923.3)"/>
<circle cx="1692.4" cy="997" r="11.1" fill="url(#gT)"/><ellipse cx="1687.1" cy="1002.5" rx="2.2" ry="1.1" fill="#c8fcff" opacity="0.75" transform="rotate(40 1687.1 1002.5)"/>
<circle cx="1596" cy="1064.2" r="11.1" fill="url(#gT)"/><ellipse cx="1590.7" cy="1069.8" rx="2.2" ry="1.1" fill="#c8fcff" opacity="0.75" transform="rotate(40 1590.7 1069.8)"/>
<circle cx="1795.8" cy="1067.8" r="11.1" fill="url(#gT)"/><ellipse cx="1790.5" cy="1073.3" rx="2.2" ry="1.1" fill="#c8fcff" opacity="0.75" transform="rotate(40 1790.5 1073.3)"/>
<circle cx="1187.4" cy="683.8" r="17.2" fill="url(#gO)"/><ellipse cx="1180.2" cy="673.1" rx="3.8" ry="1.5" fill="#ffe2a0" opacity="0.8" transform="rotate(-30 1180.2 673.1)"/><ellipse cx="1178.8" cy="693.3" rx="2.8" ry="1.5" fill="#ffe2a0" opacity="0.8" transform="rotate(40 1178.8 693.3)"/>
<circle cx="1232.3" cy="738.1" r="17.2" fill="url(#gO)"/><ellipse cx="1225.1" cy="727.4" rx="3.8" ry="1.5" fill="#ffe2a0" opacity="0.8" transform="rotate(-30 1225.1 727.4)"/><ellipse cx="1223.7" cy="747.6" rx="2.8" ry="1.5" fill="#ffe2a0" opacity="0.8" transform="rotate(40 1223.7 747.6)"/>
<circle cx="1163.8" cy="783" r="17.2" fill="url(#gO)"/><ellipse cx="1156.6" cy="772.3" rx="3.8" ry="1.5" fill="#ffe2a0" opacity="0.8" transform="rotate(-30 1156.6 772.3)"/><ellipse cx="1155.2" cy="792.5" rx="2.8" ry="1.5" fill="#ffe2a0" opacity="0.8" transform="rotate(40 1155.2 792.5)"/>
<circle cx="1117.3" cy="797.9" r="17.2" fill="url(#gO)"/><ellipse cx="1110.1" cy="787.2" rx="3.8" ry="1.5" fill="#ffe2a0" opacity="0.8" transform="rotate(-30 1110.1 787.2)"/><ellipse cx="1108.7" cy="807.4" rx="2.8" ry="1.5" fill="#ffe2a0" opacity="0.8" transform="rotate(40 1108.7 807.4)"/>
<circle cx="1300.8" cy="770" r="17.2" fill="url(#gO)"/><ellipse cx="1293.6" cy="759.3" rx="3.8" ry="1.5" fill="#ffe2a0" opacity="0.8" transform="rotate(-30 1293.6 759.3)"/><ellipse cx="1292.2" cy="779.5" rx="2.8" ry="1.5" fill="#ffe2a0" opacity="0.8" transform="rotate(40 1292.2 779.5)"/>
<circle cx="1289.7" cy="806.6" r="17.2" fill="url(#gO)"/><ellipse cx="1282.5" cy="795.9" rx="3.8" ry="1.5" fill="#ffe2a0" opacity="0.8" transform="rotate(-30 1282.5 795.9)"/><ellipse cx="1281.1" cy="816.1" rx="2.8" ry="1.5" fill="#ffe2a0" opacity="0.8" transform="rotate(40 1281.1 816.1)"/>
<circle cx="1383.9" cy="729.9" r="17.2" fill="url(#gO)"/><ellipse cx="1376.7" cy="719.2" rx="3.8" ry="1.5" fill="#ffe2a0" opacity="0.8" transform="rotate(-30 1376.7 719.2)"/><ellipse cx="1375.3" cy="739.4" rx="2.8" ry="1.5" fill="#ffe2a0" opacity="0.8" transform="rotate(40 1375.3 739.4)"/>
<circle cx="1495.6" cy="648.4" r="17.2" fill="url(#gO)"/><ellipse cx="1488.4" cy="637.7" rx="3.8" ry="1.5" fill="#ffe2a0" opacity="0.8" transform="rotate(-30 1488.4 637.7)"/><ellipse cx="1487" cy="657.9" rx="2.8" ry="1.5" fill="#ffe2a0" opacity="0.8" transform="rotate(40 1487 657.9)"/>
<circle cx="1523.9" cy="675.6" r="17.2" fill="url(#gO)"/><ellipse cx="1516.7" cy="664.9" rx="3.8" ry="1.5" fill="#ffe2a0" opacity="0.8" transform="rotate(-30 1516.7 664.9)"/><ellipse cx="1515.3" cy="685.1" rx="2.8" ry="1.5" fill="#ffe2a0" opacity="0.8" transform="rotate(40 1515.3 685.1)"/>
<circle cx="1418.8" cy="798.3" r="17.2" fill="url(#gO)"/><ellipse cx="1411.6" cy="787.6" rx="3.8" ry="1.5" fill="#ffe2a0" opacity="0.8" transform="rotate(-30 1411.6 787.6)"/><ellipse cx="1410.2" cy="807.8" rx="2.8" ry="1.5" fill="#ffe2a0" opacity="0.8" transform="rotate(40 1410.2 807.8)"/>
<circle cx="1488" cy="812.5" r="17.2" fill="url(#gO)"/><ellipse cx="1480.8" cy="801.8" rx="3.8" ry="1.5" fill="#ffe2a0" opacity="0.8" transform="rotate(-30 1480.8 801.8)"/><ellipse cx="1479.4" cy="822" rx="2.8" ry="1.5" fill="#ffe2a0" opacity="0.8" transform="rotate(40 1479.4 822)"/>
<circle cx="1640.4" cy="695.6" r="17.2" fill="url(#gO)"/><ellipse cx="1633.2" cy="684.9" rx="3.8" ry="1.5" fill="#ffe2a0" opacity="0.8" transform="rotate(-30 1633.2 684.9)"/><ellipse cx="1631.8" cy="705.1" rx="2.8" ry="1.5" fill="#ffe2a0" opacity="0.8" transform="rotate(40 1631.8 705.1)"/>
<circle cx="1580.9" cy="705.1" r="17.2" fill="url(#gO)"/><ellipse cx="1573.7" cy="694.4" rx="3.8" ry="1.5" fill="#ffe2a0" opacity="0.8" transform="rotate(-30 1573.7 694.4)"/><ellipse cx="1572.3" cy="714.6" rx="2.8" ry="1.5" fill="#ffe2a0" opacity="0.8" transform="rotate(40 1572.3 714.6)"/>
<circle cx="1654.1" cy="757" r="17.2" fill="url(#gO)"/><ellipse cx="1646.9" cy="746.3" rx="3.8" ry="1.5" fill="#ffe2a0" opacity="0.8" transform="rotate(-30 1646.9 746.3)"/><ellipse cx="1645.5" cy="766.5" rx="2.8" ry="1.5" fill="#ffe2a0" opacity="0.8" transform="rotate(40 1645.5 766.5)"/>
<circle cx="1798.6" cy="712.1" r="17.2" fill="url(#gO)"/><ellipse cx="1791.4" cy="701.4" rx="3.8" ry="1.5" fill="#ffe2a0" opacity="0.8" transform="rotate(-30 1791.4 701.4)"/><ellipse cx="1790" cy="721.6" rx="2.8" ry="1.5" fill="#ffe2a0" opacity="0.8" transform="rotate(40 1790 721.6)"/>
<circle cx="1649.9" cy="818.4" r="17.2" fill="url(#gO)"/><ellipse cx="1642.7" cy="807.7" rx="3.8" ry="1.5" fill="#ffe2a0" opacity="0.8" transform="rotate(-30 1642.7 807.7)"/><ellipse cx="1641.3" cy="827.9" rx="2.8" ry="1.5" fill="#ffe2a0" opacity="0.8" transform="rotate(40 1641.3 827.9)"/>
<circle cx="1790.3" cy="821.9" r="17.2" fill="url(#gO)"/><ellipse cx="1783.1" cy="811.2" rx="3.8" ry="1.5" fill="#ffe2a0" opacity="0.8" transform="rotate(-30 1783.1 811.2)"/><ellipse cx="1781.7" cy="831.4" rx="2.8" ry="1.5" fill="#ffe2a0" opacity="0.8" transform="rotate(40 1781.7 831.4)"/>
<circle cx="1843.9" cy="817.2" r="17.2" fill="url(#gO)"/><ellipse cx="1836.7" cy="806.5" rx="3.8" ry="1.5" fill="#ffe2a0" opacity="0.8" transform="rotate(-30 1836.7 806.5)"/><ellipse cx="1835.3" cy="826.7" rx="2.8" ry="1.5" fill="#ffe2a0" opacity="0.8" transform="rotate(40 1835.3 826.7)"/>
<circle cx="1621.5" cy="864" r="17.2" fill="url(#gO)"/><ellipse cx="1614.3" cy="853.3" rx="3.8" ry="1.5" fill="#ffe2a0" opacity="0.8" transform="rotate(-30 1614.3 853.3)"/><ellipse cx="1612.9" cy="873.5" rx="2.8" ry="1.5" fill="#ffe2a0" opacity="0.8" transform="rotate(40 1612.9 873.5)"/>
<circle cx="1747.8" cy="878" r="17.2" fill="url(#gO)"/><ellipse cx="1740.6" cy="867.3" rx="3.8" ry="1.5" fill="#ffe2a0" opacity="0.8" transform="rotate(-30 1740.6 867.3)"/><ellipse cx="1739.2" cy="887.5" rx="2.8" ry="1.5" fill="#ffe2a0" opacity="0.8" transform="rotate(40 1739.2 887.5)"/>
<circle cx="1160.3" cy="891.9" r="17.2" fill="url(#gO)"/><ellipse cx="1153.1" cy="881.2" rx="3.8" ry="1.5" fill="#ffe2a0" opacity="0.8" transform="rotate(-30 1153.1 881.2)"/><ellipse cx="1151.7" cy="901.4" rx="2.8" ry="1.5" fill="#ffe2a0" opacity="0.8" transform="rotate(40 1151.7 901.4)"/>
<circle cx="1119.7" cy="935.1" r="17.2" fill="url(#gO)"/><ellipse cx="1112.5" cy="924.4" rx="3.8" ry="1.5" fill="#ffe2a0" opacity="0.8" transform="rotate(-30 1112.5 924.4)"/><ellipse cx="1111.1" cy="944.6" rx="2.8" ry="1.5" fill="#ffe2a0" opacity="0.8" transform="rotate(40 1111.1 944.6)"/>
<circle cx="1171.6" cy="947.4" r="17.2" fill="url(#gO)"/><ellipse cx="1164.4" cy="936.7" rx="3.8" ry="1.5" fill="#ffe2a0" opacity="0.8" transform="rotate(-30 1164.4 936.7)"/><ellipse cx="1163" cy="956.9" rx="2.8" ry="1.5" fill="#ffe2a0" opacity="0.8" transform="rotate(40 1163 956.9)"/>
<circle cx="1218.1" cy="932" r="17.2" fill="url(#gO)"/><ellipse cx="1210.9" cy="921.3" rx="3.8" ry="1.5" fill="#ffe2a0" opacity="0.8" transform="rotate(-30 1210.9 921.3)"/><ellipse cx="1209.5" cy="941.5" rx="2.8" ry="1.5" fill="#ffe2a0" opacity="0.8" transform="rotate(40 1209.5 941.5)"/>
<circle cx="1296" cy="920.9" r="17.2" fill="url(#gO)"/><ellipse cx="1288.8" cy="910.2" rx="3.8" ry="1.5" fill="#ffe2a0" opacity="0.8" transform="rotate(-30 1288.8 910.2)"/><ellipse cx="1287.4" cy="930.4" rx="2.8" ry="1.5" fill="#ffe2a0" opacity="0.8" transform="rotate(40 1287.4 930.4)"/>
<circle cx="1325.6" cy="891.9" r="17.2" fill="url(#gO)"/><ellipse cx="1318.4" cy="881.2" rx="3.8" ry="1.5" fill="#ffe2a0" opacity="0.8" transform="rotate(-30 1318.4 881.2)"/><ellipse cx="1317" cy="901.4" rx="2.8" ry="1.5" fill="#ffe2a0" opacity="0.8" transform="rotate(40 1317 901.4)"/>
<circle cx="1273.6" cy="1022.9" r="17.2" fill="url(#gO)"/><ellipse cx="1266.4" cy="1012.2" rx="3.8" ry="1.5" fill="#ffe2a0" opacity="0.8" transform="rotate(-30 1266.4 1012.2)"/><ellipse cx="1265" cy="1032.4" rx="2.8" ry="1.5" fill="#ffe2a0" opacity="0.8" transform="rotate(40 1265 1032.4)"/>
<circle cx="1430.6" cy="994.6" r="17.2" fill="url(#gO)"/><ellipse cx="1423.4" cy="983.9" rx="3.8" ry="1.5" fill="#ffe2a0" opacity="0.8" transform="rotate(-30 1423.4 983.9)"/><ellipse cx="1422" cy="1004.1" rx="2.8" ry="1.5" fill="#ffe2a0" opacity="0.8" transform="rotate(40 1422 1004.1)"/>
<circle cx="1429.5" cy="980.4" r="17.2" fill="url(#gO)"/><ellipse cx="1422.3" cy="969.7" rx="3.8" ry="1.5" fill="#ffe2a0" opacity="0.8" transform="rotate(-30 1422.3 969.7)"/><ellipse cx="1420.9" cy="989.9" rx="2.8" ry="1.5" fill="#ffe2a0" opacity="0.8" transform="rotate(40 1420.9 989.9)"/>
<circle cx="1489.7" cy="1011.1" r="17.2" fill="url(#gO)"/><ellipse cx="1482.5" cy="1000.4" rx="3.8" ry="1.5" fill="#ffe2a0" opacity="0.8" transform="rotate(-30 1482.5 1000.4)"/><ellipse cx="1481.1" cy="1020.6" rx="2.8" ry="1.5" fill="#ffe2a0" opacity="0.8" transform="rotate(40 1481.1 1020.6)"/>
<circle cx="1318" cy="1085.5" r="17.2" fill="url(#gO)"/><ellipse cx="1310.8" cy="1074.8" rx="3.8" ry="1.5" fill="#ffe2a0" opacity="0.8" transform="rotate(-30 1310.8 1074.8)"/><ellipse cx="1309.4" cy="1095" rx="2.8" ry="1.5" fill="#ffe2a0" opacity="0.8" transform="rotate(40 1309.4 1095)"/>
<circle cx="1747.8" cy="955.6" r="17.2" fill="url(#gO)"/><ellipse cx="1740.6" cy="944.9" rx="3.8" ry="1.5" fill="#ffe2a0" opacity="0.8" transform="rotate(-30 1740.6 944.9)"/><ellipse cx="1739.2" cy="965.1" rx="2.8" ry="1.5" fill="#ffe2a0" opacity="0.8" transform="rotate(40 1739.2 965.1)"/>
<circle cx="1836.4" cy="974.5" r="17.2" fill="url(#gO)"/><ellipse cx="1829.2" cy="963.8" rx="3.8" ry="1.5" fill="#ffe2a0" opacity="0.8" transform="rotate(-30 1829.2 963.8)"/><ellipse cx="1827.8" cy="984" rx="2.8" ry="1.5" fill="#ffe2a0" opacity="0.8" transform="rotate(40 1827.8 984)"/>
<circle cx="1607.4" cy="978" r="17.2" fill="url(#gO)"/><ellipse cx="1600.2" cy="967.3" rx="3.8" ry="1.5" fill="#ffe2a0" opacity="0.8" transform="rotate(-30 1600.2 967.3)"/><ellipse cx="1598.8" cy="987.5" rx="2.8" ry="1.5" fill="#ffe2a0" opacity="0.8" transform="rotate(40 1598.8 987.5)"/>
<circle cx="1580.9" cy="1004" r="17.2" fill="url(#gO)"/><ellipse cx="1573.7" cy="993.3" rx="3.8" ry="1.5" fill="#ffe2a0" opacity="0.8" transform="rotate(-30 1573.7 993.3)"/><ellipse cx="1572.3" cy="1013.5" rx="2.8" ry="1.5" fill="#ffe2a0" opacity="0.8" transform="rotate(40 1572.3 1013.5)"/>
<circle cx="1729" cy="995.8" r="17.2" fill="url(#gO)"/><ellipse cx="1721.8" cy="985.1" rx="3.8" ry="1.5" fill="#ffe2a0" opacity="0.8" transform="rotate(-30 1721.8 985.1)"/><ellipse cx="1720.4" cy="1005.3" rx="2.8" ry="1.5" fill="#ffe2a0" opacity="0.8" transform="rotate(40 1720.4 1005.3)"/>
<circle cx="1711.2" cy="1076" r="17.2" fill="url(#gO)"/><ellipse cx="1704" cy="1065.3" rx="3.8" ry="1.5" fill="#ffe2a0" opacity="0.8" transform="rotate(-30 1704 1065.3)"/><ellipse cx="1702.6" cy="1085.5" rx="2.8" ry="1.5" fill="#ffe2a0" opacity="0.8" transform="rotate(40 1702.6 1085.5)"/>
<path d="M1207.5,659 L1203.4,689.9 L1212.7,686.4 L1216.9,697.5 L1207.5,701 L1231,721.6 L1235.1,690.7 L1225.8,694.2 L1221.6,683.1 L1231,679.6Z" fill="#00aeef"/>
<path d="M1231,759.4 L1216.2,786.9 L1226.2,786.9 L1226.2,801.5 L1216.2,801.5 L1231,829 L1245.8,801.5 L1235.8,801.5 L1235.8,786.9 L1245.8,786.9Z" fill="#00aeef"/>
<path d="M1174.4,796 L1181.7,824.7 L1188.9,817.7 L1195.7,824.7 L1188.5,831.6 L1217,839.7 L1209.7,811 L1202.5,818 L1195.7,811 L1202.9,804.1Z" fill="#00aeef"/>
<path d="M1122.5,813.7 L1112,843.1 L1121.9,841.6 L1125.2,863.5 L1115.3,865 L1134,890 L1144.5,860.6 L1134.6,862.1 L1131.3,840.2 L1141.2,838.7Z" fill="#00aeef"/>
<path d="M1325.6,770 L1347.3,792.4 L1350.4,782.9 L1379.4,792.2 L1376.3,801.7 L1407,796 L1385.3,773.6 L1382.2,783.1 L1353.2,773.8 L1356.3,764.3Z" fill="#00aeef"/>
<path d="M1429.5,649.6 L1403.4,666.6 L1412.1,671.4 L1404.2,685.8 L1395.5,681 L1395.2,712.2 L1421.3,695.2 L1412.6,690.4 L1420.5,676 L1429.2,680.8Z" fill="#00aeef"/>
<path d="M1395.2,728.7 L1405.5,758.1 L1412.3,750.8 L1440.2,776.3 L1433.4,783.6 L1463.7,791.3 L1453.4,761.9 L1446.6,769.2 L1418.7,743.7 L1425.5,736.4Z" fill="#00aeef"/>
<path d="M1489.7,767.7 L1520.2,770.3 L1516.1,761.1 L1525.4,757 L1529.5,766.1 L1548,741.7 L1517.5,739.1 L1521.6,748.3 L1512.3,752.4 L1508.2,743.3Z" fill="#00aeef"/>
<path d="M1490,833 L1479.2,862.3 L1489.1,860.9 L1492.5,884.4 L1482.6,885.8 L1501,911 L1511.8,881.7 L1501.9,883.1 L1498.5,859.6 L1508.4,858.2Z" fill="#00aeef"/>
<path d="M1510,811 L1529.2,835.6 L1533.2,826.5 L1576.9,845.8 L1572.9,855 L1604,852.6 L1584.8,828 L1580.8,837.1 L1537.1,817.8 L1541.1,808.6Z" fill="#00aeef"/>
<path d="M1657,673.2 L1681,693.1 L1683,683.3 L1722.3,691.3 L1720.3,701.1 L1750.2,692.1 L1726.2,672.2 L1724.2,682 L1684.9,674 L1686.9,664.2Z" fill="#00aeef"/>
<path d="M1776.2,722.8 L1765.3,752 L1775.2,750.7 L1778.4,774.1 L1768.5,775.4 L1786.8,800.7 L1797.7,771.5 L1787.8,772.8 L1784.6,749.4 L1794.5,748.1Z" fill="#00aeef"/>
<path d="M1804.5,727.5 L1794,756.9 L1803.9,755.4 L1807.5,778.9 L1797.6,780.4 L1816.3,805.4 L1826.8,776 L1816.9,777.5 L1813.3,754 L1823.2,752.5Z" fill="#00aeef"/>
<path d="M1666.4,819.6 L1693.9,834.4 L1693.9,824.4 L1743.9,824.4 L1743.9,834.4 L1771.4,819.6 L1743.9,804.9 L1743.9,814.9 L1693.9,814.9 L1693.9,804.9Z" fill="#00aeef"/>
<path d="M1843,841 L1830,869.2 L1839.9,868.6 L1840.6,879 L1830.6,879.6 L1847,906 L1860,877.8 L1850.1,878.4 L1849.4,868 L1859.4,867.4Z" fill="#00aeef"/>
<path d="M1174.4,1017 L1200.7,1033.7 L1201.5,1023.8 L1228.1,1025.7 L1227.4,1035.7 L1255.9,1023 L1229.6,1006.3 L1228.8,1016.2 L1202.2,1014.3 L1202.9,1004.3Z" fill="#00aeef"/>
<path d="M1326.8,910.8 L1315.6,936.7 L1325.5,935.3 L1326.9,944.3 L1317,945.7 L1335,967.4 L1346.2,941.5 L1336.3,942.9 L1334.9,933.9 L1344.8,932.5Z" fill="#00aeef"/>
<path d="M1338.6,989.9 L1335,1020.9 L1344.3,1017.2 L1351.2,1034.5 L1341.9,1038.2 L1365.7,1058.3 L1369.3,1027.3 L1360,1031 L1353.1,1013.7 L1362.4,1010Z" fill="#00aeef"/>
<path d="M1447.2,971 L1475.7,968.5 L1469.8,960.4 L1477.4,954.9 L1483.2,963 L1494.4,936.7 L1465.9,939.2 L1471.8,947.3 L1464.2,952.8 L1458.4,944.7Z" fill="#00aeef"/>
<path d="M1434,1081 L1465.2,1080.9 L1460.5,1072.1 L1549.1,1024.2 L1553.8,1033 L1571,1007 L1539.8,1007.1 L1544.5,1015.9 L1455.9,1063.8 L1451.2,1055Z" fill="#00aeef"/>
<path d="M1613.3,874.2 L1591.2,896.3 L1600.8,899.1 L1586,948 L1576.4,945.1 L1582.6,975.7 L1604.7,953.6 L1595.1,950.8 L1609.9,901.9 L1619.5,904.8Z" fill="#00aeef"/>
<path d="M1655.8,895.4 L1629.3,911.9 L1638,916.9 L1628.8,933 L1620.1,928 L1619.2,959.2 L1645.7,942.7 L1637,937.7 L1646.2,921.6 L1654.9,926.6Z" fill="#00aeef"/>
<path d="M1601.5,1060.7 L1632.6,1057.6 L1627,1049.3 L1660.3,1026.9 L1665.9,1035.2 L1680.5,1007.6 L1649.4,1010.7 L1655,1019 L1621.7,1041.4 L1616.1,1033.1Z" fill="#00aeef"/>
<path d="M1610.9,1066.6 L1636.8,1084 L1637.8,1074.1 L1677.5,1078 L1676.5,1088 L1705.3,1076 L1679.4,1058.6 L1678.4,1068.5 L1638.7,1064.6 L1639.7,1054.6Z" fill="#00aeef"/>
<path d="M1805.7,1056 L1828.9,1035.1 L1819.4,1031.7 L1823.3,1020.9 L1832.7,1024.3 L1828.1,993.4 L1804.9,1014.3 L1814.4,1017.7 L1810.5,1028.5 L1801.1,1025.1Z" fill="#00aeef"/>
<path d="M1020.3,820.9 L1020.3,793.6 L1076.4,849.3 L1020.3,905.4 L1020.3,877.8Z" fill="#777" opacity="0.8" filter="url(#sh)"/><path d="M873.1,818.9 L1012.3,818.9 L1012.3,791.6 L1068.4,847.3 L1012.3,903.4 L1012.3,875.8 L873.1,875.8Z" fill="#92d050" stroke="#6cbf2a" stroke-width="1.2"/>
<text x="3.5" y="603" font-size="40" fill="#000" text-anchor="start" font-weight="bold">e</text>
<text x="434" y="616.9" font-size="29" fill="#000" text-anchor="middle">Crystal</text>
<text x="1487.4" y="616.9" font-size="29" fill="#000" text-anchor="middle">Amorphous</text>
<text x="434.8" y="1176.2" font-size="29" fill="#ff0000" text-anchor="middle">Limited d–d transfer</text>
<text x="1488.5" y="1175.9" font-size="29" fill="#00b0f0" text-anchor="middle">Flexible electron transfer</text>
</svg>
</body></html>
